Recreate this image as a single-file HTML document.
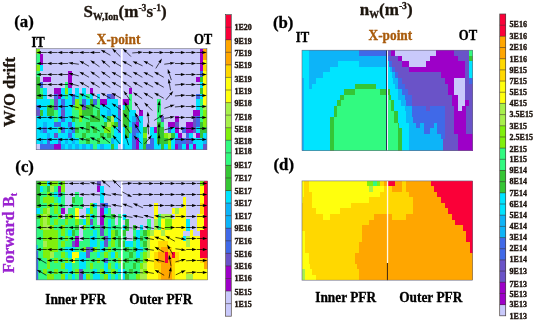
<!DOCTYPE html>
<html><head><meta charset="utf-8"><title>figure</title>
<style>
html,body{margin:0;padding:0;background:#fff;}
body{width:533px;height:320px;overflow:hidden;}
svg{display:block;}
text{font-family:"Liberation Serif",serif;font-weight:bold;stroke-width:0.3px;paint-order:stroke;}
.cb{font-size:8.9px;fill:#1c120c;stroke:#1c120c;stroke-width:0.4px;}
</style></head><body>
<svg width="533" height="320" viewBox="0 0 533 320">
<rect x="0" y="0" width="533" height="320" fill="#ffffff"/>
<defs><filter id="soft" x="0" y="0" width="533" height="320" filterUnits="userSpaceOnUse"><feGaussianBlur stdDeviation="0.45"/></filter></defs>
<g filter="url(#soft)">
<rect x="0" y="0" width="533" height="320" fill="#ffffff"/>
<g shape-rendering="crispEdges">
<rect x="36.20" y="48.60" width="170.70" height="101.10" fill="#c9c9fb"/>
<rect x="36.20" y="48.60" width="3.71" height="5.77" fill="#80f008"/>
<rect x="199.79" y="48.60" width="3.71" height="5.77" fill="#9d00c8"/>
<rect x="203.34" y="48.60" width="3.71" height="5.77" fill="#ffa600"/>
<rect x="36.20" y="54.22" width="3.71" height="5.77" fill="#30fa80"/>
<rect x="39.76" y="54.22" width="3.71" height="5.77" fill="#9d00c8"/>
<rect x="199.79" y="54.22" width="3.71" height="5.77" fill="#9d00c8"/>
<rect x="203.34" y="54.22" width="3.71" height="5.77" fill="#ffa600"/>
<rect x="36.20" y="59.83" width="3.71" height="5.77" fill="#30fa80"/>
<rect x="39.76" y="59.83" width="3.71" height="5.77" fill="#9d00c8"/>
<rect x="199.79" y="59.83" width="3.71" height="5.77" fill="#9d00c8"/>
<rect x="203.34" y="59.83" width="3.71" height="5.77" fill="#ffff10"/>
<rect x="36.20" y="65.45" width="3.71" height="5.77" fill="#80f008"/>
<rect x="39.76" y="65.45" width="3.71" height="5.77" fill="#00e4ff"/>
<rect x="199.79" y="65.45" width="3.71" height="5.77" fill="#9d00c8"/>
<rect x="203.34" y="65.45" width="3.71" height="5.77" fill="#ffd800"/>
<rect x="36.20" y="71.07" width="3.71" height="5.77" fill="#30fa80"/>
<rect x="68.21" y="71.07" width="3.71" height="5.77" fill="#9d00c8"/>
<rect x="199.79" y="71.07" width="3.71" height="5.77" fill="#4169e8"/>
<rect x="203.34" y="71.07" width="3.71" height="5.77" fill="#ffff10"/>
<rect x="36.20" y="76.68" width="3.71" height="5.77" fill="#34c634"/>
<rect x="43.31" y="76.68" width="7.26" height="5.77" fill="#9d00c8"/>
<rect x="68.21" y="76.68" width="3.71" height="5.77" fill="#9d00c8"/>
<rect x="196.23" y="76.68" width="3.71" height="5.77" fill="#9d00c8"/>
<rect x="199.79" y="76.68" width="3.71" height="5.77" fill="#34c634"/>
<rect x="203.34" y="76.68" width="3.71" height="5.77" fill="#ffff10"/>
<rect x="36.20" y="82.30" width="3.71" height="5.77" fill="#34c634"/>
<rect x="39.76" y="82.30" width="3.71" height="5.77" fill="#4169e8"/>
<rect x="64.65" y="82.30" width="3.71" height="5.77" fill="#30fa80"/>
<rect x="68.21" y="82.30" width="3.71" height="5.77" fill="#9d00c8"/>
<rect x="199.79" y="82.30" width="3.71" height="5.77" fill="#00e4ff"/>
<rect x="203.34" y="82.30" width="3.71" height="5.77" fill="#ffff10"/>
<rect x="36.20" y="87.92" width="3.71" height="5.77" fill="#34c634"/>
<rect x="39.76" y="87.92" width="3.71" height="5.77" fill="#30fa80"/>
<rect x="43.31" y="87.92" width="3.71" height="5.77" fill="#00e4ff"/>
<rect x="53.98" y="87.92" width="7.26" height="5.77" fill="#9d00c8"/>
<rect x="61.09" y="87.92" width="3.71" height="5.77" fill="#00e4ff"/>
<rect x="64.65" y="87.92" width="3.71" height="5.77" fill="#80f008"/>
<rect x="68.21" y="87.92" width="3.71" height="5.77" fill="#00e4ff"/>
<rect x="75.32" y="87.92" width="3.71" height="5.77" fill="#00e4ff"/>
<rect x="82.43" y="87.92" width="3.71" height="5.77" fill="#00e4ff"/>
<rect x="89.54" y="87.92" width="3.71" height="5.77" fill="#9d00c8"/>
<rect x="128.66" y="87.92" width="3.71" height="5.77" fill="#9d00c8"/>
<rect x="199.79" y="87.92" width="3.71" height="5.77" fill="#34c634"/>
<rect x="203.34" y="87.92" width="3.71" height="5.77" fill="#ffff10"/>
<rect x="36.20" y="93.53" width="7.26" height="5.77" fill="#34c634"/>
<rect x="43.31" y="93.53" width="3.71" height="5.77" fill="#00e4ff"/>
<rect x="53.98" y="93.53" width="3.71" height="5.77" fill="#4169e8"/>
<rect x="57.54" y="93.53" width="3.71" height="5.77" fill="#9d00c8"/>
<rect x="61.09" y="93.53" width="3.71" height="5.77" fill="#00e4ff"/>
<rect x="64.65" y="93.53" width="3.71" height="5.77" fill="#30fa80"/>
<rect x="68.21" y="93.53" width="3.71" height="5.77" fill="#00e4ff"/>
<rect x="71.76" y="93.53" width="3.71" height="5.77" fill="#4169e8"/>
<rect x="75.32" y="93.53" width="3.71" height="5.77" fill="#00e4ff"/>
<rect x="78.88" y="93.53" width="3.71" height="5.77" fill="#30fa80"/>
<rect x="82.43" y="93.53" width="3.71" height="5.77" fill="#00e4ff"/>
<rect x="85.99" y="93.53" width="3.71" height="5.77" fill="#30fa80"/>
<rect x="89.54" y="93.53" width="3.71" height="5.77" fill="#00e4ff"/>
<rect x="96.66" y="93.53" width="3.71" height="5.77" fill="#00e4ff"/>
<rect x="107.33" y="93.53" width="3.71" height="5.77" fill="#4169e8"/>
<rect x="110.88" y="93.53" width="3.71" height="5.77" fill="#6a52c8"/>
<rect x="128.66" y="93.53" width="3.71" height="5.77" fill="#30fa80"/>
<rect x="196.23" y="93.53" width="3.71" height="5.77" fill="#4169e8"/>
<rect x="199.79" y="93.53" width="3.71" height="5.77" fill="#00e4ff"/>
<rect x="203.34" y="93.53" width="3.71" height="5.77" fill="#ffff10"/>
<rect x="36.20" y="99.15" width="14.38" height="5.77" fill="#00e4ff"/>
<rect x="50.43" y="99.15" width="3.71" height="5.77" fill="#30fa80"/>
<rect x="53.98" y="99.15" width="3.71" height="5.77" fill="#6a52c8"/>
<rect x="57.54" y="99.15" width="3.71" height="5.77" fill="#00e4ff"/>
<rect x="61.09" y="99.15" width="3.71" height="5.77" fill="#4169e8"/>
<rect x="64.65" y="99.15" width="7.26" height="5.77" fill="#00e4ff"/>
<rect x="71.76" y="99.15" width="3.71" height="5.77" fill="#4169e8"/>
<rect x="75.32" y="99.15" width="3.71" height="5.77" fill="#80f008"/>
<rect x="78.88" y="99.15" width="3.71" height="5.77" fill="#30fa80"/>
<rect x="82.43" y="99.15" width="3.71" height="5.77" fill="#4169e8"/>
<rect x="85.99" y="99.15" width="3.71" height="5.77" fill="#00e4ff"/>
<rect x="89.54" y="99.15" width="3.71" height="5.77" fill="#34c634"/>
<rect x="93.10" y="99.15" width="3.71" height="5.77" fill="#4169e8"/>
<rect x="96.66" y="99.15" width="3.71" height="5.77" fill="#30fa80"/>
<rect x="100.21" y="99.15" width="7.26" height="5.77" fill="#9d00c8"/>
<rect x="107.33" y="99.15" width="10.82" height="5.77" fill="#00e4ff"/>
<rect x="121.55" y="99.15" width="7.26" height="5.77" fill="#9d00c8"/>
<rect x="128.66" y="99.15" width="3.71" height="5.77" fill="#30fa80"/>
<rect x="157.11" y="99.15" width="3.71" height="5.77" fill="#30fa80"/>
<rect x="196.23" y="99.15" width="3.71" height="5.77" fill="#00e4ff"/>
<rect x="199.79" y="99.15" width="3.71" height="5.77" fill="#30fa80"/>
<rect x="203.34" y="99.15" width="3.71" height="5.77" fill="#ffff10"/>
<rect x="36.20" y="104.77" width="3.71" height="5.77" fill="#4169e8"/>
<rect x="39.76" y="104.77" width="7.26" height="5.77" fill="#00e4ff"/>
<rect x="46.87" y="104.77" width="7.26" height="5.77" fill="#34c634"/>
<rect x="53.98" y="104.77" width="3.71" height="5.77" fill="#6a52c8"/>
<rect x="57.54" y="104.77" width="3.71" height="5.77" fill="#00e4ff"/>
<rect x="61.09" y="104.77" width="3.71" height="5.77" fill="#4169e8"/>
<rect x="64.65" y="104.77" width="7.26" height="5.77" fill="#00e4ff"/>
<rect x="71.76" y="104.77" width="3.71" height="5.77" fill="#30fa80"/>
<rect x="75.32" y="104.77" width="7.26" height="5.77" fill="#80f008"/>
<rect x="82.43" y="104.77" width="3.71" height="5.77" fill="#6a52c8"/>
<rect x="85.99" y="104.77" width="7.26" height="5.77" fill="#34c634"/>
<rect x="93.10" y="104.77" width="7.26" height="5.77" fill="#30fa80"/>
<rect x="100.21" y="104.77" width="17.93" height="5.77" fill="#00e4ff"/>
<rect x="117.99" y="104.77" width="3.71" height="5.77" fill="#6a52c8"/>
<rect x="121.55" y="104.77" width="3.71" height="5.77" fill="#00e4ff"/>
<rect x="125.11" y="104.77" width="3.71" height="5.77" fill="#34c634"/>
<rect x="128.66" y="104.77" width="3.71" height="5.77" fill="#30fa80"/>
<rect x="157.11" y="104.77" width="3.71" height="5.77" fill="#30fa80"/>
<rect x="196.23" y="104.77" width="3.71" height="5.77" fill="#00e4ff"/>
<rect x="199.79" y="104.77" width="3.71" height="5.77" fill="#30fa80"/>
<rect x="203.34" y="104.77" width="3.71" height="5.77" fill="#a8f04c"/>
<rect x="36.20" y="110.38" width="3.71" height="5.77" fill="#6a52c8"/>
<rect x="39.76" y="110.38" width="3.71" height="5.77" fill="#34c634"/>
<rect x="43.31" y="110.38" width="3.71" height="5.77" fill="#00e4ff"/>
<rect x="46.87" y="110.38" width="7.26" height="5.77" fill="#34c634"/>
<rect x="53.98" y="110.38" width="3.71" height="5.77" fill="#30fa80"/>
<rect x="57.54" y="110.38" width="3.71" height="5.77" fill="#00e4ff"/>
<rect x="61.09" y="110.38" width="3.71" height="5.77" fill="#6a52c8"/>
<rect x="64.65" y="110.38" width="7.26" height="5.77" fill="#00e4ff"/>
<rect x="71.76" y="110.38" width="7.26" height="5.77" fill="#30fa80"/>
<rect x="78.88" y="110.38" width="3.71" height="5.77" fill="#80f008"/>
<rect x="82.43" y="110.38" width="10.82" height="5.77" fill="#34c634"/>
<rect x="93.10" y="110.38" width="3.71" height="5.77" fill="#30fa80"/>
<rect x="96.66" y="110.38" width="3.71" height="5.77" fill="#34c634"/>
<rect x="100.21" y="110.38" width="7.26" height="5.77" fill="#00e4ff"/>
<rect x="107.33" y="110.38" width="3.71" height="5.77" fill="#10b4f8"/>
<rect x="110.88" y="110.38" width="7.26" height="5.77" fill="#00e4ff"/>
<rect x="117.99" y="110.38" width="3.71" height="5.77" fill="#6a52c8"/>
<rect x="121.55" y="110.38" width="7.26" height="5.77" fill="#34c634"/>
<rect x="128.66" y="110.38" width="7.26" height="5.77" fill="#00e4ff"/>
<rect x="139.33" y="110.38" width="3.71" height="5.77" fill="#9d00c8"/>
<rect x="157.11" y="110.38" width="3.71" height="5.77" fill="#30fa80"/>
<rect x="192.68" y="110.38" width="7.26" height="5.77" fill="#9d00c8"/>
<rect x="199.79" y="110.38" width="3.71" height="5.77" fill="#30fa80"/>
<rect x="203.34" y="110.38" width="3.71" height="5.77" fill="#80f008"/>
<rect x="36.20" y="116.00" width="17.93" height="5.77" fill="#00e4ff"/>
<rect x="53.98" y="116.00" width="3.71" height="5.77" fill="#30fa80"/>
<rect x="57.54" y="116.00" width="3.71" height="5.77" fill="#00e4ff"/>
<rect x="61.09" y="116.00" width="3.71" height="5.77" fill="#4169e8"/>
<rect x="64.65" y="116.00" width="7.26" height="5.77" fill="#00e4ff"/>
<rect x="71.76" y="116.00" width="3.71" height="5.77" fill="#34c634"/>
<rect x="75.32" y="116.00" width="3.71" height="5.77" fill="#30fa80"/>
<rect x="78.88" y="116.00" width="3.71" height="5.77" fill="#80f008"/>
<rect x="82.43" y="116.00" width="7.26" height="5.77" fill="#30fa80"/>
<rect x="89.54" y="116.00" width="10.82" height="5.77" fill="#34c634"/>
<rect x="100.21" y="116.00" width="3.71" height="5.77" fill="#30fa80"/>
<rect x="103.77" y="116.00" width="3.71" height="5.77" fill="#00e4ff"/>
<rect x="107.33" y="116.00" width="3.71" height="5.77" fill="#34c634"/>
<rect x="110.88" y="116.00" width="3.71" height="5.77" fill="#a8f04c"/>
<rect x="114.44" y="116.00" width="3.71" height="5.77" fill="#00e4ff"/>
<rect x="117.99" y="116.00" width="3.71" height="5.77" fill="#4169e8"/>
<rect x="121.55" y="116.00" width="7.26" height="5.77" fill="#34c634"/>
<rect x="128.66" y="116.00" width="3.71" height="5.77" fill="#00e4ff"/>
<rect x="132.22" y="116.00" width="3.71" height="5.77" fill="#10b4f8"/>
<rect x="135.78" y="116.00" width="3.71" height="5.77" fill="#6a52c8"/>
<rect x="139.33" y="116.00" width="3.71" height="5.77" fill="#00e4ff"/>
<rect x="157.11" y="116.00" width="3.71" height="5.77" fill="#30fa80"/>
<rect x="160.67" y="116.00" width="3.71" height="5.77" fill="#6a52c8"/>
<rect x="174.89" y="116.00" width="3.71" height="5.77" fill="#9d00c8"/>
<rect x="192.68" y="116.00" width="3.71" height="5.77" fill="#6a52c8"/>
<rect x="196.23" y="116.00" width="3.71" height="5.77" fill="#4169e8"/>
<rect x="199.79" y="116.00" width="3.71" height="5.77" fill="#30fa80"/>
<rect x="203.34" y="116.00" width="3.71" height="5.77" fill="#80f008"/>
<rect x="36.20" y="121.62" width="7.26" height="5.77" fill="#00e4ff"/>
<rect x="43.31" y="121.62" width="3.71" height="5.77" fill="#10b4f8"/>
<rect x="46.87" y="121.62" width="7.26" height="5.77" fill="#00e4ff"/>
<rect x="53.98" y="121.62" width="7.26" height="5.77" fill="#4169e8"/>
<rect x="61.09" y="121.62" width="7.26" height="5.77" fill="#00e4ff"/>
<rect x="68.21" y="121.62" width="3.71" height="5.77" fill="#4169e8"/>
<rect x="71.76" y="121.62" width="3.71" height="5.77" fill="#00e4ff"/>
<rect x="75.32" y="121.62" width="10.82" height="5.77" fill="#30fa80"/>
<rect x="85.99" y="121.62" width="3.71" height="5.77" fill="#34c634"/>
<rect x="89.54" y="121.62" width="14.38" height="5.77" fill="#30fa80"/>
<rect x="103.77" y="121.62" width="3.71" height="5.77" fill="#34c634"/>
<rect x="107.33" y="121.62" width="3.71" height="5.77" fill="#a8f04c"/>
<rect x="110.88" y="121.62" width="3.71" height="5.77" fill="#80f008"/>
<rect x="114.44" y="121.62" width="3.71" height="5.77" fill="#34c634"/>
<rect x="117.99" y="121.62" width="3.71" height="5.77" fill="#4169e8"/>
<rect x="121.55" y="121.62" width="7.26" height="5.77" fill="#34c634"/>
<rect x="128.66" y="121.62" width="3.71" height="5.77" fill="#00e4ff"/>
<rect x="132.22" y="121.62" width="3.71" height="5.77" fill="#4169e8"/>
<rect x="135.78" y="121.62" width="3.71" height="5.77" fill="#9d00c8"/>
<rect x="139.33" y="121.62" width="3.71" height="5.77" fill="#00e4ff"/>
<rect x="157.11" y="121.62" width="3.71" height="5.77" fill="#34c634"/>
<rect x="160.67" y="121.62" width="3.71" height="5.77" fill="#30fa80"/>
<rect x="167.78" y="121.62" width="7.26" height="5.77" fill="#9d00c8"/>
<rect x="174.89" y="121.62" width="3.71" height="5.77" fill="#6a52c8"/>
<rect x="185.56" y="121.62" width="7.26" height="5.77" fill="#9d00c8"/>
<rect x="192.68" y="121.62" width="3.71" height="5.77" fill="#6a52c8"/>
<rect x="196.23" y="121.62" width="3.71" height="5.77" fill="#4169e8"/>
<rect x="199.79" y="121.62" width="3.71" height="5.77" fill="#34c634"/>
<rect x="203.34" y="121.62" width="3.71" height="5.77" fill="#80f008"/>
<rect x="36.20" y="127.23" width="3.71" height="5.77" fill="#00e4ff"/>
<rect x="39.76" y="127.23" width="3.71" height="5.77" fill="#10b4f8"/>
<rect x="43.31" y="127.23" width="3.71" height="5.77" fill="#4169e8"/>
<rect x="46.87" y="127.23" width="10.82" height="5.77" fill="#00e4ff"/>
<rect x="57.54" y="127.23" width="3.71" height="5.77" fill="#30fa80"/>
<rect x="61.09" y="127.23" width="3.71" height="5.77" fill="#4169e8"/>
<rect x="64.65" y="127.23" width="3.71" height="5.77" fill="#00e4ff"/>
<rect x="68.21" y="127.23" width="3.71" height="5.77" fill="#10b4f8"/>
<rect x="71.76" y="127.23" width="3.71" height="5.77" fill="#4169e8"/>
<rect x="75.32" y="127.23" width="3.71" height="5.77" fill="#34c634"/>
<rect x="78.88" y="127.23" width="7.26" height="5.77" fill="#30fa80"/>
<rect x="85.99" y="127.23" width="3.71" height="5.77" fill="#34c634"/>
<rect x="89.54" y="127.23" width="3.71" height="5.77" fill="#30fa80"/>
<rect x="93.10" y="127.23" width="3.71" height="5.77" fill="#34c634"/>
<rect x="96.66" y="127.23" width="7.26" height="5.77" fill="#30fa80"/>
<rect x="103.77" y="127.23" width="7.26" height="5.77" fill="#80f008"/>
<rect x="110.88" y="127.23" width="3.71" height="5.77" fill="#30fa80"/>
<rect x="114.44" y="127.23" width="3.71" height="5.77" fill="#00e4ff"/>
<rect x="117.99" y="127.23" width="3.71" height="5.77" fill="#4169e8"/>
<rect x="121.55" y="127.23" width="3.71" height="5.77" fill="#00e4ff"/>
<rect x="125.11" y="127.23" width="3.71" height="5.77" fill="#34c634"/>
<rect x="128.66" y="127.23" width="3.71" height="5.77" fill="#30fa80"/>
<rect x="132.22" y="127.23" width="7.26" height="5.77" fill="#4169e8"/>
<rect x="139.33" y="127.23" width="3.71" height="5.77" fill="#00e4ff"/>
<rect x="142.89" y="127.23" width="3.71" height="5.77" fill="#34c634"/>
<rect x="150.00" y="127.23" width="3.71" height="5.77" fill="#00e4ff"/>
<rect x="153.56" y="127.23" width="3.71" height="5.77" fill="#9d00c8"/>
<rect x="157.11" y="127.23" width="7.26" height="5.77" fill="#34c634"/>
<rect x="167.78" y="127.23" width="3.71" height="5.77" fill="#4169e8"/>
<rect x="171.34" y="127.23" width="3.71" height="5.77" fill="#00e4ff"/>
<rect x="174.89" y="127.23" width="3.71" height="5.77" fill="#9d00c8"/>
<rect x="182.01" y="127.23" width="3.71" height="5.77" fill="#4169e8"/>
<rect x="185.56" y="127.23" width="7.26" height="5.77" fill="#9d00c8"/>
<rect x="192.68" y="127.23" width="3.71" height="5.77" fill="#6a52c8"/>
<rect x="196.23" y="127.23" width="3.71" height="5.77" fill="#00e4ff"/>
<rect x="199.79" y="127.23" width="7.26" height="5.77" fill="#34c634"/>
<rect x="36.20" y="132.85" width="10.82" height="5.77" fill="#00e4ff"/>
<rect x="46.87" y="132.85" width="3.71" height="5.77" fill="#10b4f8"/>
<rect x="50.43" y="132.85" width="3.71" height="5.77" fill="#00e4ff"/>
<rect x="53.98" y="132.85" width="3.71" height="5.77" fill="#6a52c8"/>
<rect x="57.54" y="132.85" width="10.82" height="5.77" fill="#00e4ff"/>
<rect x="68.21" y="132.85" width="3.71" height="5.77" fill="#4169e8"/>
<rect x="71.76" y="132.85" width="3.71" height="5.77" fill="#00e4ff"/>
<rect x="75.32" y="132.85" width="7.26" height="5.77" fill="#30fa80"/>
<rect x="82.43" y="132.85" width="3.71" height="5.77" fill="#34c634"/>
<rect x="85.99" y="132.85" width="14.38" height="5.77" fill="#30fa80"/>
<rect x="100.21" y="132.85" width="3.71" height="5.77" fill="#34c634"/>
<rect x="103.77" y="132.85" width="3.71" height="5.77" fill="#30fa80"/>
<rect x="107.33" y="132.85" width="3.71" height="5.77" fill="#34c634"/>
<rect x="110.88" y="132.85" width="3.71" height="5.77" fill="#30fa80"/>
<rect x="114.44" y="132.85" width="10.82" height="5.77" fill="#00e4ff"/>
<rect x="125.11" y="132.85" width="3.71" height="5.77" fill="#34c634"/>
<rect x="128.66" y="132.85" width="3.71" height="5.77" fill="#00e4ff"/>
<rect x="132.22" y="132.85" width="3.71" height="5.77" fill="#4169e8"/>
<rect x="135.78" y="132.85" width="3.71" height="5.77" fill="#10b4f8"/>
<rect x="139.33" y="132.85" width="3.71" height="5.77" fill="#00e4ff"/>
<rect x="142.89" y="132.85" width="3.71" height="5.77" fill="#80f008"/>
<rect x="150.00" y="132.85" width="7.26" height="5.77" fill="#00e4ff"/>
<rect x="157.11" y="132.85" width="7.26" height="5.77" fill="#34c634"/>
<rect x="164.23" y="132.85" width="3.71" height="5.77" fill="#80f008"/>
<rect x="167.78" y="132.85" width="3.71" height="5.77" fill="#a8f04c"/>
<rect x="171.34" y="132.85" width="3.71" height="5.77" fill="#34c634"/>
<rect x="174.89" y="132.85" width="3.71" height="5.77" fill="#00e4ff"/>
<rect x="178.45" y="132.85" width="3.71" height="5.77" fill="#9d00c8"/>
<rect x="185.56" y="132.85" width="3.71" height="5.77" fill="#4169e8"/>
<rect x="189.12" y="132.85" width="3.71" height="5.77" fill="#00e4ff"/>
<rect x="196.23" y="132.85" width="3.71" height="5.77" fill="#9d00c8"/>
<rect x="199.79" y="132.85" width="3.71" height="5.77" fill="#34c634"/>
<rect x="203.34" y="132.85" width="3.71" height="5.77" fill="#00e4ff"/>
<rect x="36.20" y="138.47" width="3.71" height="5.77" fill="#00e4ff"/>
<rect x="39.76" y="138.47" width="3.71" height="5.77" fill="#10b4f8"/>
<rect x="43.31" y="138.47" width="3.71" height="5.77" fill="#00e4ff"/>
<rect x="46.87" y="138.47" width="3.71" height="5.77" fill="#4169e8"/>
<rect x="50.43" y="138.47" width="7.26" height="5.77" fill="#00e4ff"/>
<rect x="57.54" y="138.47" width="3.71" height="5.77" fill="#4169e8"/>
<rect x="61.09" y="138.47" width="3.71" height="5.77" fill="#00e4ff"/>
<rect x="64.65" y="138.47" width="3.71" height="5.77" fill="#10b4f8"/>
<rect x="68.21" y="138.47" width="3.71" height="5.77" fill="#00e4ff"/>
<rect x="71.76" y="138.47" width="3.71" height="5.77" fill="#10b4f8"/>
<rect x="75.32" y="138.47" width="3.71" height="5.77" fill="#00e4ff"/>
<rect x="78.88" y="138.47" width="7.26" height="5.77" fill="#30fa80"/>
<rect x="85.99" y="138.47" width="3.71" height="5.77" fill="#34c634"/>
<rect x="89.54" y="138.47" width="7.26" height="5.77" fill="#30fa80"/>
<rect x="96.66" y="138.47" width="3.71" height="5.77" fill="#34c634"/>
<rect x="100.21" y="138.47" width="10.82" height="5.77" fill="#30fa80"/>
<rect x="110.88" y="138.47" width="3.71" height="5.77" fill="#10b4f8"/>
<rect x="114.44" y="138.47" width="17.93" height="5.77" fill="#00e4ff"/>
<rect x="132.22" y="138.47" width="3.71" height="5.77" fill="#4169e8"/>
<rect x="135.78" y="138.47" width="3.71" height="5.77" fill="#9d00c8"/>
<rect x="139.33" y="138.47" width="3.71" height="5.77" fill="#00e4ff"/>
<rect x="142.89" y="138.47" width="3.71" height="5.77" fill="#34c634"/>
<rect x="150.00" y="138.47" width="3.71" height="5.77" fill="#4169e8"/>
<rect x="153.56" y="138.47" width="3.71" height="5.77" fill="#00e4ff"/>
<rect x="157.11" y="138.47" width="10.82" height="5.77" fill="#34c634"/>
<rect x="167.78" y="138.47" width="3.71" height="5.77" fill="#80f008"/>
<rect x="171.34" y="138.47" width="3.71" height="5.77" fill="#00e4ff"/>
<rect x="174.89" y="138.47" width="10.82" height="5.77" fill="#4169e8"/>
<rect x="185.56" y="138.47" width="3.71" height="5.77" fill="#6a52c8"/>
<rect x="189.12" y="138.47" width="3.71" height="5.77" fill="#4169e8"/>
<rect x="192.68" y="138.47" width="10.82" height="5.77" fill="#00e4ff"/>
<rect x="203.34" y="138.47" width="3.71" height="5.77" fill="#10b4f8"/>
<rect x="39.76" y="144.08" width="14.38" height="5.77" fill="#4169e8"/>
<rect x="53.98" y="144.08" width="7.26" height="5.77" fill="#9d00c8"/>
<rect x="61.09" y="144.08" width="3.71" height="5.77" fill="#10b4f8"/>
<rect x="64.65" y="144.08" width="3.71" height="5.77" fill="#00e4ff"/>
<rect x="68.21" y="144.08" width="3.71" height="5.77" fill="#10b4f8"/>
<rect x="71.76" y="144.08" width="3.71" height="5.77" fill="#00e4ff"/>
<rect x="75.32" y="144.08" width="3.71" height="5.77" fill="#10b4f8"/>
<rect x="78.88" y="144.08" width="3.71" height="5.77" fill="#00e4ff"/>
<rect x="82.43" y="144.08" width="3.71" height="5.77" fill="#10b4f8"/>
<rect x="85.99" y="144.08" width="3.71" height="5.77" fill="#00e4ff"/>
<rect x="89.54" y="144.08" width="3.71" height="5.77" fill="#10b4f8"/>
<rect x="93.10" y="144.08" width="3.71" height="5.77" fill="#30fa80"/>
<rect x="96.66" y="144.08" width="3.71" height="5.77" fill="#00e4ff"/>
<rect x="100.21" y="144.08" width="3.71" height="5.77" fill="#10b4f8"/>
<rect x="103.77" y="144.08" width="7.26" height="5.77" fill="#00e4ff"/>
<rect x="110.88" y="144.08" width="3.71" height="5.77" fill="#34c634"/>
<rect x="114.44" y="144.08" width="3.71" height="5.77" fill="#00e4ff"/>
<rect x="121.55" y="144.08" width="3.71" height="5.77" fill="#10b4f8"/>
<rect x="125.11" y="144.08" width="7.26" height="5.77" fill="#00e4ff"/>
<rect x="132.22" y="144.08" width="3.71" height="5.77" fill="#4169e8"/>
<rect x="135.78" y="144.08" width="3.71" height="5.77" fill="#9d00c8"/>
<rect x="139.33" y="144.08" width="3.71" height="5.77" fill="#00e4ff"/>
<rect x="142.89" y="144.08" width="3.71" height="5.77" fill="#34c634"/>
<rect x="146.44" y="144.08" width="7.26" height="5.77" fill="#4169e8"/>
<rect x="153.56" y="144.08" width="7.26" height="5.77" fill="#00e4ff"/>
<rect x="160.67" y="144.08" width="3.71" height="5.77" fill="#34c634"/>
<rect x="164.23" y="144.08" width="3.71" height="5.77" fill="#00e4ff"/>
<rect x="167.78" y="144.08" width="3.71" height="5.77" fill="#80f008"/>
<rect x="171.34" y="144.08" width="3.71" height="5.77" fill="#00e4ff"/>
<rect x="174.89" y="144.08" width="3.71" height="5.77" fill="#9d00c8"/>
<rect x="178.45" y="144.08" width="3.71" height="5.77" fill="#4169e8"/>
<rect x="182.01" y="144.08" width="3.71" height="5.77" fill="#00e4ff"/>
<rect x="185.56" y="144.08" width="3.71" height="5.77" fill="#9d00c8"/>
<rect x="189.12" y="144.08" width="3.71" height="5.77" fill="#00e4ff"/>
<rect x="192.68" y="144.08" width="3.71" height="5.77" fill="#9d00c8"/>
<rect x="196.23" y="144.08" width="7.26" height="5.77" fill="#00e4ff"/>
<rect x="203.34" y="144.08" width="3.71" height="5.77" fill="#6a52c8"/>
<rect x="36.20" y="181.00" width="171.30" height="98.90" fill="#c9c9fb"/>
<rect x="36.20" y="181.00" width="3.72" height="5.64" fill="#34c634"/>
<rect x="39.77" y="181.00" width="7.29" height="5.64" fill="#80f008"/>
<rect x="46.91" y="181.00" width="3.72" height="5.64" fill="#00e4ff"/>
<rect x="50.48" y="181.00" width="7.29" height="5.64" fill="#80f008"/>
<rect x="57.61" y="181.00" width="3.72" height="5.64" fill="#30fa80"/>
<rect x="61.18" y="181.00" width="3.72" height="5.64" fill="#80f008"/>
<rect x="96.87" y="181.00" width="3.72" height="5.64" fill="#6a52c8"/>
<rect x="200.36" y="181.00" width="3.72" height="5.64" fill="#80f008"/>
<rect x="203.93" y="181.00" width="3.72" height="5.64" fill="#fa0038"/>
<rect x="36.20" y="186.49" width="3.72" height="5.64" fill="#34c634"/>
<rect x="39.77" y="186.49" width="3.72" height="5.64" fill="#00e4ff"/>
<rect x="43.34" y="186.49" width="3.72" height="5.64" fill="#30fa80"/>
<rect x="46.91" y="186.49" width="3.72" height="5.64" fill="#34c634"/>
<rect x="50.48" y="186.49" width="3.72" height="5.64" fill="#a8f04c"/>
<rect x="54.04" y="186.49" width="3.72" height="5.64" fill="#30fa80"/>
<rect x="57.61" y="186.49" width="3.72" height="5.64" fill="#9d00c8"/>
<rect x="61.18" y="186.49" width="3.72" height="5.64" fill="#80f008"/>
<rect x="96.87" y="186.49" width="3.72" height="5.64" fill="#9d00c8"/>
<rect x="100.44" y="186.49" width="3.72" height="5.64" fill="#00e4ff"/>
<rect x="200.36" y="186.49" width="3.72" height="5.64" fill="#ffff10"/>
<rect x="203.93" y="186.49" width="3.72" height="5.64" fill="#fa0038"/>
<rect x="36.20" y="191.99" width="3.72" height="5.64" fill="#34c634"/>
<rect x="39.77" y="191.99" width="7.29" height="5.64" fill="#30fa80"/>
<rect x="46.91" y="191.99" width="3.72" height="5.64" fill="#80f008"/>
<rect x="50.48" y="191.99" width="3.72" height="5.64" fill="#30fa80"/>
<rect x="54.04" y="191.99" width="3.72" height="5.64" fill="#00e4ff"/>
<rect x="57.61" y="191.99" width="3.72" height="5.64" fill="#6a52c8"/>
<rect x="61.18" y="191.99" width="3.72" height="5.64" fill="#30fa80"/>
<rect x="75.46" y="191.99" width="3.72" height="5.64" fill="#30fa80"/>
<rect x="100.44" y="191.99" width="3.72" height="5.64" fill="#00e4ff"/>
<rect x="200.36" y="191.99" width="3.72" height="5.64" fill="#ffff10"/>
<rect x="203.93" y="191.99" width="3.72" height="5.64" fill="#fa0038"/>
<rect x="36.20" y="197.48" width="3.72" height="5.64" fill="#34c634"/>
<rect x="39.77" y="197.48" width="3.72" height="5.64" fill="#30fa80"/>
<rect x="43.34" y="197.48" width="10.86" height="5.64" fill="#80f008"/>
<rect x="54.04" y="197.48" width="3.72" height="5.64" fill="#30fa80"/>
<rect x="57.61" y="197.48" width="3.72" height="5.64" fill="#00e4ff"/>
<rect x="61.18" y="197.48" width="3.72" height="5.64" fill="#30fa80"/>
<rect x="71.89" y="197.48" width="3.72" height="5.64" fill="#34c634"/>
<rect x="75.46" y="197.48" width="7.29" height="5.64" fill="#30fa80"/>
<rect x="100.44" y="197.48" width="3.72" height="5.64" fill="#00e4ff"/>
<rect x="182.52" y="197.48" width="3.72" height="5.64" fill="#ffff10"/>
<rect x="200.36" y="197.48" width="3.72" height="5.64" fill="#ffff10"/>
<rect x="203.93" y="197.48" width="3.72" height="5.64" fill="#fa0038"/>
<rect x="36.20" y="202.98" width="3.72" height="5.64" fill="#34c634"/>
<rect x="39.77" y="202.98" width="7.29" height="5.64" fill="#30fa80"/>
<rect x="46.91" y="202.98" width="3.72" height="5.64" fill="#80f008"/>
<rect x="50.48" y="202.98" width="3.72" height="5.64" fill="#30fa80"/>
<rect x="54.04" y="202.98" width="3.72" height="5.64" fill="#80f008"/>
<rect x="57.61" y="202.98" width="7.29" height="5.64" fill="#30fa80"/>
<rect x="71.89" y="202.98" width="10.86" height="5.64" fill="#30fa80"/>
<rect x="89.73" y="202.98" width="3.72" height="5.64" fill="#80f008"/>
<rect x="93.30" y="202.98" width="3.72" height="5.64" fill="#00e4ff"/>
<rect x="100.44" y="202.98" width="3.72" height="5.64" fill="#6a52c8"/>
<rect x="104.01" y="202.98" width="3.72" height="5.64" fill="#4169e8"/>
<rect x="153.97" y="202.98" width="3.72" height="5.64" fill="#ffff10"/>
<rect x="182.52" y="202.98" width="3.72" height="5.64" fill="#ffff10"/>
<rect x="200.36" y="202.98" width="3.72" height="5.64" fill="#ffd800"/>
<rect x="203.93" y="202.98" width="3.72" height="5.64" fill="#fa0038"/>
<rect x="36.20" y="208.47" width="3.72" height="5.64" fill="#00e4ff"/>
<rect x="39.77" y="208.47" width="3.72" height="5.64" fill="#30fa80"/>
<rect x="43.34" y="208.47" width="3.72" height="5.64" fill="#80f008"/>
<rect x="46.91" y="208.47" width="3.72" height="5.64" fill="#a8f04c"/>
<rect x="50.48" y="208.47" width="3.72" height="5.64" fill="#30fa80"/>
<rect x="54.04" y="208.47" width="3.72" height="5.64" fill="#80f008"/>
<rect x="57.61" y="208.47" width="3.72" height="5.64" fill="#30fa80"/>
<rect x="61.18" y="208.47" width="3.72" height="5.64" fill="#9d00c8"/>
<rect x="68.32" y="208.47" width="7.29" height="5.64" fill="#30fa80"/>
<rect x="75.46" y="208.47" width="3.72" height="5.64" fill="#ffff10"/>
<rect x="86.16" y="208.47" width="3.72" height="5.64" fill="#00e4ff"/>
<rect x="89.73" y="208.47" width="3.72" height="5.64" fill="#80f008"/>
<rect x="93.30" y="208.47" width="3.72" height="5.64" fill="#30fa80"/>
<rect x="100.44" y="208.47" width="3.72" height="5.64" fill="#9d00c8"/>
<rect x="104.01" y="208.47" width="3.72" height="5.64" fill="#00e4ff"/>
<rect x="107.58" y="208.47" width="3.72" height="5.64" fill="#30fa80"/>
<rect x="153.97" y="208.47" width="3.72" height="5.64" fill="#ffff10"/>
<rect x="171.81" y="208.47" width="3.72" height="5.64" fill="#ffff10"/>
<rect x="175.38" y="208.47" width="3.72" height="5.64" fill="#a8f04c"/>
<rect x="178.95" y="208.47" width="7.29" height="5.64" fill="#ffff10"/>
<rect x="200.36" y="208.47" width="3.72" height="5.64" fill="#ffd800"/>
<rect x="203.93" y="208.47" width="3.72" height="5.64" fill="#fa0038"/>
<rect x="36.20" y="213.97" width="3.72" height="5.64" fill="#34c634"/>
<rect x="39.77" y="213.97" width="3.72" height="5.64" fill="#80f008"/>
<rect x="43.34" y="213.97" width="3.72" height="5.64" fill="#a8f04c"/>
<rect x="46.91" y="213.97" width="3.72" height="5.64" fill="#80f008"/>
<rect x="50.48" y="213.97" width="7.29" height="5.64" fill="#30fa80"/>
<rect x="57.61" y="213.97" width="3.72" height="5.64" fill="#80f008"/>
<rect x="64.75" y="213.97" width="3.72" height="5.64" fill="#34c634"/>
<rect x="68.32" y="213.97" width="3.72" height="5.64" fill="#80f008"/>
<rect x="71.89" y="213.97" width="3.72" height="5.64" fill="#30fa80"/>
<rect x="75.46" y="213.97" width="3.72" height="5.64" fill="#ffff10"/>
<rect x="86.16" y="213.97" width="3.72" height="5.64" fill="#80f008"/>
<rect x="89.73" y="213.97" width="3.72" height="5.64" fill="#00e4ff"/>
<rect x="93.30" y="213.97" width="3.72" height="5.64" fill="#30fa80"/>
<rect x="100.44" y="213.97" width="3.72" height="5.64" fill="#9d00c8"/>
<rect x="104.01" y="213.97" width="7.29" height="5.64" fill="#30fa80"/>
<rect x="111.14" y="213.97" width="3.72" height="5.64" fill="#34c634"/>
<rect x="118.28" y="213.97" width="3.72" height="5.64" fill="#30fa80"/>
<rect x="121.85" y="213.97" width="3.72" height="5.64" fill="#00e4ff"/>
<rect x="153.97" y="213.97" width="3.72" height="5.64" fill="#ffff10"/>
<rect x="157.54" y="213.97" width="3.72" height="5.64" fill="#30fa80"/>
<rect x="161.11" y="213.97" width="10.86" height="5.64" fill="#a8f04c"/>
<rect x="175.38" y="213.97" width="10.86" height="5.64" fill="#ffff10"/>
<rect x="196.79" y="213.97" width="7.29" height="5.64" fill="#ffff10"/>
<rect x="203.93" y="213.97" width="3.72" height="5.64" fill="#fa0038"/>
<rect x="36.20" y="219.46" width="3.72" height="5.64" fill="#30fa80"/>
<rect x="39.77" y="219.46" width="3.72" height="5.64" fill="#80f008"/>
<rect x="43.34" y="219.46" width="3.72" height="5.64" fill="#a8f04c"/>
<rect x="46.91" y="219.46" width="3.72" height="5.64" fill="#80f008"/>
<rect x="50.48" y="219.46" width="3.72" height="5.64" fill="#30fa80"/>
<rect x="54.04" y="219.46" width="3.72" height="5.64" fill="#80f008"/>
<rect x="57.61" y="219.46" width="7.29" height="5.64" fill="#30fa80"/>
<rect x="64.75" y="219.46" width="3.72" height="5.64" fill="#80f008"/>
<rect x="68.32" y="219.46" width="7.29" height="5.64" fill="#30fa80"/>
<rect x="75.46" y="219.46" width="3.72" height="5.64" fill="#80f008"/>
<rect x="79.03" y="219.46" width="3.72" height="5.64" fill="#30fa80"/>
<rect x="82.59" y="219.46" width="3.72" height="5.64" fill="#00e4ff"/>
<rect x="86.16" y="219.46" width="3.72" height="5.64" fill="#80f008"/>
<rect x="89.73" y="219.46" width="3.72" height="5.64" fill="#6a52c8"/>
<rect x="93.30" y="219.46" width="3.72" height="5.64" fill="#30fa80"/>
<rect x="100.44" y="219.46" width="3.72" height="5.64" fill="#9d00c8"/>
<rect x="104.01" y="219.46" width="3.72" height="5.64" fill="#30fa80"/>
<rect x="107.58" y="219.46" width="3.72" height="5.64" fill="#00e4ff"/>
<rect x="111.14" y="219.46" width="3.72" height="5.64" fill="#30fa80"/>
<rect x="118.28" y="219.46" width="3.72" height="5.64" fill="#30fa80"/>
<rect x="125.42" y="219.46" width="3.72" height="5.64" fill="#34c634"/>
<rect x="146.83" y="219.46" width="3.72" height="5.64" fill="#30fa80"/>
<rect x="153.97" y="219.46" width="3.72" height="5.64" fill="#a8f04c"/>
<rect x="157.54" y="219.46" width="3.72" height="5.64" fill="#30fa80"/>
<rect x="161.11" y="219.46" width="3.72" height="5.64" fill="#ffff10"/>
<rect x="164.68" y="219.46" width="7.29" height="5.64" fill="#80f008"/>
<rect x="171.81" y="219.46" width="14.43" height="5.64" fill="#ffff10"/>
<rect x="186.09" y="219.46" width="3.72" height="5.64" fill="#00e4ff"/>
<rect x="196.79" y="219.46" width="7.29" height="5.64" fill="#ffff10"/>
<rect x="203.93" y="219.46" width="3.72" height="5.64" fill="#fa0038"/>
<rect x="36.20" y="224.96" width="3.72" height="5.64" fill="#30fa80"/>
<rect x="39.77" y="224.96" width="3.72" height="5.64" fill="#80f008"/>
<rect x="43.34" y="224.96" width="7.29" height="5.64" fill="#a8f04c"/>
<rect x="50.48" y="224.96" width="3.72" height="5.64" fill="#80f008"/>
<rect x="54.04" y="224.96" width="7.29" height="5.64" fill="#30fa80"/>
<rect x="61.18" y="224.96" width="3.72" height="5.64" fill="#80f008"/>
<rect x="64.75" y="224.96" width="10.86" height="5.64" fill="#30fa80"/>
<rect x="75.46" y="224.96" width="3.72" height="5.64" fill="#34c634"/>
<rect x="82.59" y="224.96" width="3.72" height="5.64" fill="#80f008"/>
<rect x="86.16" y="224.96" width="3.72" height="5.64" fill="#30fa80"/>
<rect x="89.73" y="224.96" width="3.72" height="5.64" fill="#00e4ff"/>
<rect x="93.30" y="224.96" width="7.29" height="5.64" fill="#30fa80"/>
<rect x="100.44" y="224.96" width="3.72" height="5.64" fill="#6a52c8"/>
<rect x="104.01" y="224.96" width="3.72" height="5.64" fill="#30fa80"/>
<rect x="107.58" y="224.96" width="3.72" height="5.64" fill="#00e4ff"/>
<rect x="111.14" y="224.96" width="10.86" height="5.64" fill="#30fa80"/>
<rect x="121.85" y="224.96" width="3.72" height="5.64" fill="#00e4ff"/>
<rect x="125.42" y="224.96" width="3.72" height="5.64" fill="#34c634"/>
<rect x="132.56" y="224.96" width="3.72" height="5.64" fill="#34c634"/>
<rect x="139.69" y="224.96" width="3.72" height="5.64" fill="#00e4ff"/>
<rect x="146.83" y="224.96" width="3.72" height="5.64" fill="#30fa80"/>
<rect x="153.97" y="224.96" width="3.72" height="5.64" fill="#a8f04c"/>
<rect x="157.54" y="224.96" width="3.72" height="5.64" fill="#30fa80"/>
<rect x="161.11" y="224.96" width="3.72" height="5.64" fill="#ffff10"/>
<rect x="164.68" y="224.96" width="7.29" height="5.64" fill="#80f008"/>
<rect x="171.81" y="224.96" width="14.43" height="5.64" fill="#ffff10"/>
<rect x="186.09" y="224.96" width="3.72" height="5.64" fill="#00e4ff"/>
<rect x="196.79" y="224.96" width="7.29" height="5.64" fill="#ffff10"/>
<rect x="203.93" y="224.96" width="3.72" height="5.64" fill="#fa0038"/>
<rect x="36.20" y="230.45" width="7.29" height="5.64" fill="#30fa80"/>
<rect x="43.34" y="230.45" width="14.43" height="5.64" fill="#80f008"/>
<rect x="57.61" y="230.45" width="3.72" height="5.64" fill="#30fa80"/>
<rect x="61.18" y="230.45" width="3.72" height="5.64" fill="#80f008"/>
<rect x="64.75" y="230.45" width="3.72" height="5.64" fill="#30fa80"/>
<rect x="68.32" y="230.45" width="3.72" height="5.64" fill="#00e4ff"/>
<rect x="71.89" y="230.45" width="3.72" height="5.64" fill="#34c634"/>
<rect x="75.46" y="230.45" width="3.72" height="5.64" fill="#30fa80"/>
<rect x="82.59" y="230.45" width="10.86" height="5.64" fill="#30fa80"/>
<rect x="93.30" y="230.45" width="3.72" height="5.64" fill="#00e4ff"/>
<rect x="96.87" y="230.45" width="3.72" height="5.64" fill="#30fa80"/>
<rect x="100.44" y="230.45" width="3.72" height="5.64" fill="#6a52c8"/>
<rect x="104.01" y="230.45" width="3.72" height="5.64" fill="#30fa80"/>
<rect x="107.58" y="230.45" width="3.72" height="5.64" fill="#00e4ff"/>
<rect x="111.14" y="230.45" width="3.72" height="5.64" fill="#80f008"/>
<rect x="114.71" y="230.45" width="3.72" height="5.64" fill="#34c634"/>
<rect x="118.28" y="230.45" width="3.72" height="5.64" fill="#30fa80"/>
<rect x="121.85" y="230.45" width="3.72" height="5.64" fill="#34c634"/>
<rect x="132.56" y="230.45" width="3.72" height="5.64" fill="#30fa80"/>
<rect x="136.12" y="230.45" width="3.72" height="5.64" fill="#00e4ff"/>
<rect x="139.69" y="230.45" width="3.72" height="5.64" fill="#30fa80"/>
<rect x="143.26" y="230.45" width="3.72" height="5.64" fill="#34c634"/>
<rect x="146.83" y="230.45" width="3.72" height="5.64" fill="#80f008"/>
<rect x="150.40" y="230.45" width="3.72" height="5.64" fill="#a8f04c"/>
<rect x="153.97" y="230.45" width="7.29" height="5.64" fill="#ffff10"/>
<rect x="161.11" y="230.45" width="3.72" height="5.64" fill="#a8f04c"/>
<rect x="164.68" y="230.45" width="17.99" height="5.64" fill="#ffff10"/>
<rect x="189.66" y="230.45" width="3.72" height="5.64" fill="#ffff10"/>
<rect x="200.36" y="230.45" width="7.29" height="5.64" fill="#fa0038"/>
<rect x="36.20" y="235.94" width="7.29" height="5.64" fill="#30fa80"/>
<rect x="43.34" y="235.94" width="14.43" height="5.64" fill="#80f008"/>
<rect x="57.61" y="235.94" width="7.29" height="5.64" fill="#30fa80"/>
<rect x="64.75" y="235.94" width="3.72" height="5.64" fill="#80f008"/>
<rect x="68.32" y="235.94" width="7.29" height="5.64" fill="#30fa80"/>
<rect x="75.46" y="235.94" width="3.72" height="5.64" fill="#9d00c8"/>
<rect x="82.59" y="235.94" width="7.29" height="5.64" fill="#30fa80"/>
<rect x="89.73" y="235.94" width="7.29" height="5.64" fill="#00e4ff"/>
<rect x="96.87" y="235.94" width="7.29" height="5.64" fill="#30fa80"/>
<rect x="104.01" y="235.94" width="3.72" height="5.64" fill="#6a52c8"/>
<rect x="107.58" y="235.94" width="3.72" height="5.64" fill="#00e4ff"/>
<rect x="111.14" y="235.94" width="3.72" height="5.64" fill="#80f008"/>
<rect x="114.71" y="235.94" width="3.72" height="5.64" fill="#30fa80"/>
<rect x="118.28" y="235.94" width="3.72" height="5.64" fill="#34c634"/>
<rect x="121.85" y="235.94" width="3.72" height="5.64" fill="#30fa80"/>
<rect x="132.56" y="235.94" width="3.72" height="5.64" fill="#34c634"/>
<rect x="136.12" y="235.94" width="3.72" height="5.64" fill="#00e4ff"/>
<rect x="139.69" y="235.94" width="3.72" height="5.64" fill="#34c634"/>
<rect x="143.26" y="235.94" width="3.72" height="5.64" fill="#30fa80"/>
<rect x="146.83" y="235.94" width="3.72" height="5.64" fill="#a8f04c"/>
<rect x="150.40" y="235.94" width="32.27" height="5.64" fill="#ffff10"/>
<rect x="182.52" y="235.94" width="3.72" height="5.64" fill="#00e4ff"/>
<rect x="186.09" y="235.94" width="3.72" height="5.64" fill="#a8f04c"/>
<rect x="189.66" y="235.94" width="10.86" height="5.64" fill="#ffff10"/>
<rect x="200.36" y="235.94" width="7.29" height="5.64" fill="#fa0038"/>
<rect x="36.20" y="241.44" width="7.29" height="5.64" fill="#30fa80"/>
<rect x="43.34" y="241.44" width="3.72" height="5.64" fill="#a8f04c"/>
<rect x="46.91" y="241.44" width="10.86" height="5.64" fill="#80f008"/>
<rect x="57.61" y="241.44" width="3.72" height="5.64" fill="#30fa80"/>
<rect x="61.18" y="241.44" width="3.72" height="5.64" fill="#80f008"/>
<rect x="64.75" y="241.44" width="7.29" height="5.64" fill="#30fa80"/>
<rect x="71.89" y="241.44" width="3.72" height="5.64" fill="#6a52c8"/>
<rect x="75.46" y="241.44" width="3.72" height="5.64" fill="#9d00c8"/>
<rect x="79.03" y="241.44" width="10.86" height="5.64" fill="#30fa80"/>
<rect x="89.73" y="241.44" width="7.29" height="5.64" fill="#00e4ff"/>
<rect x="96.87" y="241.44" width="3.72" height="5.64" fill="#30fa80"/>
<rect x="100.44" y="241.44" width="3.72" height="5.64" fill="#00e4ff"/>
<rect x="104.01" y="241.44" width="3.72" height="5.64" fill="#6a52c8"/>
<rect x="107.58" y="241.44" width="3.72" height="5.64" fill="#30fa80"/>
<rect x="111.14" y="241.44" width="3.72" height="5.64" fill="#80f008"/>
<rect x="114.71" y="241.44" width="3.72" height="5.64" fill="#30fa80"/>
<rect x="118.28" y="241.44" width="7.29" height="5.64" fill="#34c634"/>
<rect x="125.42" y="241.44" width="7.29" height="5.64" fill="#00e4ff"/>
<rect x="132.56" y="241.44" width="3.72" height="5.64" fill="#30fa80"/>
<rect x="136.12" y="241.44" width="3.72" height="5.64" fill="#00e4ff"/>
<rect x="139.69" y="241.44" width="3.72" height="5.64" fill="#30fa80"/>
<rect x="143.26" y="241.44" width="3.72" height="5.64" fill="#34c634"/>
<rect x="146.83" y="241.44" width="3.72" height="5.64" fill="#a8f04c"/>
<rect x="150.40" y="241.44" width="7.29" height="5.64" fill="#ffff10"/>
<rect x="157.54" y="241.44" width="10.86" height="5.64" fill="#ffd800"/>
<rect x="168.24" y="241.44" width="17.99" height="5.64" fill="#ffff10"/>
<rect x="186.09" y="241.44" width="3.72" height="5.64" fill="#a8f04c"/>
<rect x="189.66" y="241.44" width="10.86" height="5.64" fill="#ffff10"/>
<rect x="200.36" y="241.44" width="7.29" height="5.64" fill="#fa0038"/>
<rect x="36.20" y="246.93" width="7.29" height="5.64" fill="#30fa80"/>
<rect x="43.34" y="246.93" width="14.43" height="5.64" fill="#80f008"/>
<rect x="57.61" y="246.93" width="7.29" height="5.64" fill="#30fa80"/>
<rect x="64.75" y="246.93" width="10.86" height="5.64" fill="#00e4ff"/>
<rect x="75.46" y="246.93" width="7.29" height="5.64" fill="#30fa80"/>
<rect x="82.59" y="246.93" width="3.72" height="5.64" fill="#80f008"/>
<rect x="86.16" y="246.93" width="3.72" height="5.64" fill="#6a52c8"/>
<rect x="89.73" y="246.93" width="3.72" height="5.64" fill="#4169e8"/>
<rect x="93.30" y="246.93" width="3.72" height="5.64" fill="#80f008"/>
<rect x="96.87" y="246.93" width="3.72" height="5.64" fill="#30fa80"/>
<rect x="100.44" y="246.93" width="3.72" height="5.64" fill="#00e4ff"/>
<rect x="104.01" y="246.93" width="3.72" height="5.64" fill="#30fa80"/>
<rect x="107.58" y="246.93" width="3.72" height="5.64" fill="#80f008"/>
<rect x="111.14" y="246.93" width="14.43" height="5.64" fill="#30fa80"/>
<rect x="125.42" y="246.93" width="3.72" height="5.64" fill="#34c634"/>
<rect x="128.99" y="246.93" width="3.72" height="5.64" fill="#30fa80"/>
<rect x="132.56" y="246.93" width="3.72" height="5.64" fill="#34c634"/>
<rect x="136.12" y="246.93" width="7.29" height="5.64" fill="#00e4ff"/>
<rect x="143.26" y="246.93" width="3.72" height="5.64" fill="#30fa80"/>
<rect x="146.83" y="246.93" width="3.72" height="5.64" fill="#a8f04c"/>
<rect x="150.40" y="246.93" width="7.29" height="5.64" fill="#ffff10"/>
<rect x="157.54" y="246.93" width="3.72" height="5.64" fill="#ffd800"/>
<rect x="161.11" y="246.93" width="7.29" height="5.64" fill="#ffa600"/>
<rect x="168.24" y="246.93" width="3.72" height="5.64" fill="#ffd800"/>
<rect x="171.81" y="246.93" width="28.70" height="5.64" fill="#ffff10"/>
<rect x="200.36" y="246.93" width="7.29" height="5.64" fill="#fa0038"/>
<rect x="36.20" y="252.43" width="7.29" height="5.64" fill="#30fa80"/>
<rect x="43.34" y="252.43" width="7.29" height="5.64" fill="#80f008"/>
<rect x="50.48" y="252.43" width="3.72" height="5.64" fill="#a8f04c"/>
<rect x="54.04" y="252.43" width="7.29" height="5.64" fill="#30fa80"/>
<rect x="61.18" y="252.43" width="3.72" height="5.64" fill="#80f008"/>
<rect x="64.75" y="252.43" width="3.72" height="5.64" fill="#30fa80"/>
<rect x="68.32" y="252.43" width="3.72" height="5.64" fill="#00e4ff"/>
<rect x="71.89" y="252.43" width="7.29" height="5.64" fill="#ffff10"/>
<rect x="79.03" y="252.43" width="7.29" height="5.64" fill="#00e4ff"/>
<rect x="86.16" y="252.43" width="3.72" height="5.64" fill="#6a52c8"/>
<rect x="89.73" y="252.43" width="7.29" height="5.64" fill="#30fa80"/>
<rect x="96.87" y="252.43" width="3.72" height="5.64" fill="#00e4ff"/>
<rect x="100.44" y="252.43" width="3.72" height="5.64" fill="#30fa80"/>
<rect x="104.01" y="252.43" width="3.72" height="5.64" fill="#80f008"/>
<rect x="107.58" y="252.43" width="3.72" height="5.64" fill="#30fa80"/>
<rect x="111.14" y="252.43" width="3.72" height="5.64" fill="#00e4ff"/>
<rect x="114.71" y="252.43" width="3.72" height="5.64" fill="#80f008"/>
<rect x="118.28" y="252.43" width="10.86" height="5.64" fill="#30fa80"/>
<rect x="128.99" y="252.43" width="3.72" height="5.64" fill="#34c634"/>
<rect x="132.56" y="252.43" width="3.72" height="5.64" fill="#30fa80"/>
<rect x="136.12" y="252.43" width="3.72" height="5.64" fill="#00e4ff"/>
<rect x="139.69" y="252.43" width="3.72" height="5.64" fill="#30fa80"/>
<rect x="143.26" y="252.43" width="3.72" height="5.64" fill="#80f008"/>
<rect x="146.83" y="252.43" width="3.72" height="5.64" fill="#a8f04c"/>
<rect x="150.40" y="252.43" width="3.72" height="5.64" fill="#ffff10"/>
<rect x="153.97" y="252.43" width="3.72" height="5.64" fill="#ffd800"/>
<rect x="157.54" y="252.43" width="7.29" height="5.64" fill="#ffa600"/>
<rect x="164.68" y="252.43" width="3.72" height="5.64" fill="#fa0038"/>
<rect x="168.24" y="252.43" width="3.72" height="5.64" fill="#ffa600"/>
<rect x="171.81" y="252.43" width="3.72" height="5.64" fill="#fa0038"/>
<rect x="175.38" y="252.43" width="3.72" height="5.64" fill="#ffd800"/>
<rect x="178.95" y="252.43" width="21.56" height="5.64" fill="#ffff10"/>
<rect x="200.36" y="252.43" width="7.29" height="5.64" fill="#fa0038"/>
<rect x="36.20" y="257.92" width="10.86" height="5.64" fill="#30fa80"/>
<rect x="46.91" y="257.92" width="3.72" height="5.64" fill="#80f008"/>
<rect x="50.48" y="257.92" width="3.72" height="5.64" fill="#30fa80"/>
<rect x="54.04" y="257.92" width="3.72" height="5.64" fill="#80f008"/>
<rect x="57.61" y="257.92" width="7.29" height="5.64" fill="#30fa80"/>
<rect x="64.75" y="257.92" width="3.72" height="5.64" fill="#80f008"/>
<rect x="68.32" y="257.92" width="3.72" height="5.64" fill="#30fa80"/>
<rect x="71.89" y="257.92" width="3.72" height="5.64" fill="#ffff10"/>
<rect x="75.46" y="257.92" width="3.72" height="5.64" fill="#30fa80"/>
<rect x="79.03" y="257.92" width="7.29" height="5.64" fill="#00e4ff"/>
<rect x="86.16" y="257.92" width="10.86" height="5.64" fill="#30fa80"/>
<rect x="96.87" y="257.92" width="3.72" height="5.64" fill="#80f008"/>
<rect x="100.44" y="257.92" width="3.72" height="5.64" fill="#30fa80"/>
<rect x="104.01" y="257.92" width="3.72" height="5.64" fill="#4169e8"/>
<rect x="107.58" y="257.92" width="10.86" height="5.64" fill="#30fa80"/>
<rect x="118.28" y="257.92" width="3.72" height="5.64" fill="#80f008"/>
<rect x="121.85" y="257.92" width="3.72" height="5.64" fill="#30fa80"/>
<rect x="125.42" y="257.92" width="3.72" height="5.64" fill="#34c634"/>
<rect x="128.99" y="257.92" width="7.29" height="5.64" fill="#30fa80"/>
<rect x="136.12" y="257.92" width="3.72" height="5.64" fill="#34c634"/>
<rect x="139.69" y="257.92" width="3.72" height="5.64" fill="#30fa80"/>
<rect x="143.26" y="257.92" width="3.72" height="5.64" fill="#80f008"/>
<rect x="146.83" y="257.92" width="7.29" height="5.64" fill="#ffff10"/>
<rect x="153.97" y="257.92" width="3.72" height="5.64" fill="#ffd800"/>
<rect x="157.54" y="257.92" width="7.29" height="5.64" fill="#ffa600"/>
<rect x="164.68" y="257.92" width="3.72" height="5.64" fill="#fa0038"/>
<rect x="168.24" y="257.92" width="3.72" height="5.64" fill="#ffa600"/>
<rect x="171.81" y="257.92" width="7.29" height="5.64" fill="#ffd800"/>
<rect x="178.95" y="257.92" width="21.56" height="5.64" fill="#ffff10"/>
<rect x="200.36" y="257.92" width="3.72" height="5.64" fill="#ffd800"/>
<rect x="203.93" y="257.92" width="3.72" height="5.64" fill="#ffa600"/>
<rect x="36.20" y="263.42" width="10.86" height="5.64" fill="#30fa80"/>
<rect x="46.91" y="263.42" width="3.72" height="5.64" fill="#80f008"/>
<rect x="50.48" y="263.42" width="10.86" height="5.64" fill="#30fa80"/>
<rect x="61.18" y="263.42" width="3.72" height="5.64" fill="#80f008"/>
<rect x="64.75" y="263.42" width="7.29" height="5.64" fill="#00e4ff"/>
<rect x="71.89" y="263.42" width="7.29" height="5.64" fill="#30fa80"/>
<rect x="79.03" y="263.42" width="7.29" height="5.64" fill="#00e4ff"/>
<rect x="86.16" y="263.42" width="3.72" height="5.64" fill="#30fa80"/>
<rect x="89.73" y="263.42" width="3.72" height="5.64" fill="#80f008"/>
<rect x="93.30" y="263.42" width="10.86" height="5.64" fill="#30fa80"/>
<rect x="104.01" y="263.42" width="3.72" height="5.64" fill="#00e4ff"/>
<rect x="107.58" y="263.42" width="3.72" height="5.64" fill="#80f008"/>
<rect x="111.14" y="263.42" width="3.72" height="5.64" fill="#30fa80"/>
<rect x="114.71" y="263.42" width="3.72" height="5.64" fill="#00e4ff"/>
<rect x="118.28" y="263.42" width="3.72" height="5.64" fill="#30fa80"/>
<rect x="121.85" y="263.42" width="3.72" height="5.64" fill="#34c634"/>
<rect x="125.42" y="263.42" width="7.29" height="5.64" fill="#30fa80"/>
<rect x="132.56" y="263.42" width="3.72" height="5.64" fill="#34c634"/>
<rect x="136.12" y="263.42" width="3.72" height="5.64" fill="#30fa80"/>
<rect x="139.69" y="263.42" width="3.72" height="5.64" fill="#80f008"/>
<rect x="143.26" y="263.42" width="3.72" height="5.64" fill="#a8f04c"/>
<rect x="146.83" y="263.42" width="7.29" height="5.64" fill="#ffff10"/>
<rect x="153.97" y="263.42" width="7.29" height="5.64" fill="#ffd800"/>
<rect x="161.11" y="263.42" width="10.86" height="5.64" fill="#ffa600"/>
<rect x="171.81" y="263.42" width="3.72" height="5.64" fill="#ffd800"/>
<rect x="175.38" y="263.42" width="28.70" height="5.64" fill="#ffff10"/>
<rect x="203.93" y="263.42" width="3.72" height="5.64" fill="#ffa600"/>
<rect x="36.20" y="268.91" width="7.29" height="5.64" fill="#30fa80"/>
<rect x="43.34" y="268.91" width="3.72" height="5.64" fill="#80f008"/>
<rect x="46.91" y="268.91" width="7.29" height="5.64" fill="#30fa80"/>
<rect x="54.04" y="268.91" width="3.72" height="5.64" fill="#80f008"/>
<rect x="57.61" y="268.91" width="10.86" height="5.64" fill="#30fa80"/>
<rect x="68.32" y="268.91" width="3.72" height="5.64" fill="#00e4ff"/>
<rect x="71.89" y="268.91" width="3.72" height="5.64" fill="#30fa80"/>
<rect x="75.46" y="268.91" width="3.72" height="5.64" fill="#80f008"/>
<rect x="79.03" y="268.91" width="3.72" height="5.64" fill="#6a52c8"/>
<rect x="82.59" y="268.91" width="10.86" height="5.64" fill="#30fa80"/>
<rect x="93.30" y="268.91" width="3.72" height="5.64" fill="#00e4ff"/>
<rect x="96.87" y="268.91" width="3.72" height="5.64" fill="#30fa80"/>
<rect x="100.44" y="268.91" width="3.72" height="5.64" fill="#80f008"/>
<rect x="104.01" y="268.91" width="3.72" height="5.64" fill="#00e4ff"/>
<rect x="107.58" y="268.91" width="3.72" height="5.64" fill="#30fa80"/>
<rect x="111.14" y="268.91" width="3.72" height="5.64" fill="#80f008"/>
<rect x="114.71" y="268.91" width="3.72" height="5.64" fill="#30fa80"/>
<rect x="118.28" y="268.91" width="7.29" height="5.64" fill="#00e4ff"/>
<rect x="125.42" y="268.91" width="3.72" height="5.64" fill="#30fa80"/>
<rect x="128.99" y="268.91" width="3.72" height="5.64" fill="#34c634"/>
<rect x="132.56" y="268.91" width="7.29" height="5.64" fill="#30fa80"/>
<rect x="139.69" y="268.91" width="3.72" height="5.64" fill="#a8f04c"/>
<rect x="143.26" y="268.91" width="3.72" height="5.64" fill="#80f008"/>
<rect x="146.83" y="268.91" width="10.86" height="5.64" fill="#ffff10"/>
<rect x="157.54" y="268.91" width="3.72" height="5.64" fill="#ffd800"/>
<rect x="161.11" y="268.91" width="10.86" height="5.64" fill="#ffa600"/>
<rect x="171.81" y="268.91" width="3.72" height="5.64" fill="#ffd800"/>
<rect x="175.38" y="268.91" width="32.27" height="5.64" fill="#ffff10"/>
<rect x="36.20" y="274.41" width="10.86" height="5.64" fill="#30fa80"/>
<rect x="46.91" y="274.41" width="7.29" height="5.64" fill="#80f008"/>
<rect x="54.04" y="274.41" width="7.29" height="5.64" fill="#30fa80"/>
<rect x="61.18" y="274.41" width="3.72" height="5.64" fill="#80f008"/>
<rect x="64.75" y="274.41" width="3.72" height="5.64" fill="#00e4ff"/>
<rect x="68.32" y="274.41" width="3.72" height="5.64" fill="#30fa80"/>
<rect x="71.89" y="274.41" width="3.72" height="5.64" fill="#00e4ff"/>
<rect x="75.46" y="274.41" width="3.72" height="5.64" fill="#30fa80"/>
<rect x="79.03" y="274.41" width="3.72" height="5.64" fill="#6a52c8"/>
<rect x="82.59" y="274.41" width="3.72" height="5.64" fill="#00e4ff"/>
<rect x="86.16" y="274.41" width="3.72" height="5.64" fill="#80f008"/>
<rect x="89.73" y="274.41" width="3.72" height="5.64" fill="#30fa80"/>
<rect x="93.30" y="274.41" width="7.29" height="5.64" fill="#00e4ff"/>
<rect x="100.44" y="274.41" width="3.72" height="5.64" fill="#30fa80"/>
<rect x="104.01" y="274.41" width="3.72" height="5.64" fill="#80f008"/>
<rect x="107.58" y="274.41" width="3.72" height="5.64" fill="#00e4ff"/>
<rect x="111.14" y="274.41" width="3.72" height="5.64" fill="#30fa80"/>
<rect x="114.71" y="274.41" width="3.72" height="5.64" fill="#00e4ff"/>
<rect x="118.28" y="274.41" width="3.72" height="5.64" fill="#30fa80"/>
<rect x="121.85" y="274.41" width="3.72" height="5.64" fill="#00e4ff"/>
<rect x="125.42" y="274.41" width="3.72" height="5.64" fill="#34c634"/>
<rect x="128.99" y="274.41" width="7.29" height="5.64" fill="#30fa80"/>
<rect x="136.12" y="274.41" width="3.72" height="5.64" fill="#80f008"/>
<rect x="139.69" y="274.41" width="7.29" height="5.64" fill="#a8f04c"/>
<rect x="146.83" y="274.41" width="10.86" height="5.64" fill="#ffff10"/>
<rect x="157.54" y="274.41" width="3.72" height="5.64" fill="#ffd800"/>
<rect x="161.11" y="274.41" width="10.86" height="5.64" fill="#ffa600"/>
<rect x="171.81" y="274.41" width="3.72" height="5.64" fill="#ffd800"/>
<rect x="175.38" y="274.41" width="10.86" height="5.64" fill="#ffff10"/>
<rect x="186.09" y="274.41" width="7.29" height="5.64" fill="#a8f04c"/>
<rect x="193.23" y="274.41" width="14.43" height="5.64" fill="#ffff10"/>
</g>
<g shape-rendering="crispEdges">
<rect x="302.00" y="50.20" width="6.83" height="5.72" fill="#00e4ff"/>
<rect x="308.68" y="50.20" width="49.97" height="5.72" fill="#10b4f8"/>
<rect x="358.50" y="50.20" width="28.23" height="5.72" fill="#4169e8"/>
<rect x="302.00" y="55.77" width="6.83" height="5.72" fill="#00e4ff"/>
<rect x="308.68" y="55.77" width="78.05" height="5.72" fill="#10b4f8"/>
<rect x="302.00" y="61.33" width="6.83" height="5.72" fill="#00e4ff"/>
<rect x="308.68" y="61.33" width="29.14" height="5.72" fill="#10b4f8"/>
<rect x="337.67" y="61.33" width="20.98" height="5.72" fill="#00e4ff"/>
<rect x="358.50" y="61.33" width="28.23" height="5.72" fill="#10b4f8"/>
<rect x="302.00" y="66.90" width="6.83" height="5.72" fill="#00e4ff"/>
<rect x="308.68" y="66.90" width="21.89" height="5.72" fill="#10b4f8"/>
<rect x="330.42" y="66.90" width="56.31" height="5.72" fill="#00e4ff"/>
<rect x="302.00" y="72.47" width="6.83" height="5.72" fill="#00e4ff"/>
<rect x="308.68" y="72.47" width="14.64" height="5.72" fill="#10b4f8"/>
<rect x="323.17" y="72.47" width="63.56" height="5.72" fill="#00e4ff"/>
<rect x="302.00" y="78.03" width="2.48" height="5.72" fill="#10b4f8"/>
<rect x="304.33" y="78.03" width="4.50" height="5.72" fill="#00e4ff"/>
<rect x="308.68" y="78.03" width="7.40" height="5.72" fill="#10b4f8"/>
<rect x="315.93" y="78.03" width="70.80" height="5.72" fill="#00e4ff"/>
<rect x="302.00" y="83.60" width="2.48" height="5.72" fill="#10b4f8"/>
<rect x="304.33" y="83.60" width="4.50" height="5.72" fill="#00e4ff"/>
<rect x="308.68" y="83.60" width="3.41" height="5.72" fill="#10b4f8"/>
<rect x="311.94" y="83.60" width="43.08" height="5.72" fill="#00e4ff"/>
<rect x="354.88" y="83.60" width="20.98" height="5.72" fill="#34c634"/>
<rect x="375.71" y="83.60" width="11.02" height="5.72" fill="#00e4ff"/>
<rect x="302.00" y="89.17" width="2.48" height="5.72" fill="#10b4f8"/>
<rect x="304.33" y="89.17" width="39.82" height="5.72" fill="#00e4ff"/>
<rect x="344.01" y="89.17" width="11.02" height="5.72" fill="#34c634"/>
<rect x="354.88" y="89.17" width="25.51" height="5.72" fill="#30fa80"/>
<rect x="380.24" y="89.17" width="6.49" height="5.72" fill="#34c634"/>
<rect x="302.00" y="94.73" width="2.48" height="5.72" fill="#10b4f8"/>
<rect x="304.33" y="94.73" width="36.20" height="5.72" fill="#00e4ff"/>
<rect x="340.38" y="94.73" width="3.77" height="5.72" fill="#34c634"/>
<rect x="344.01" y="94.73" width="42.72" height="5.72" fill="#30fa80"/>
<rect x="302.00" y="100.30" width="2.48" height="5.72" fill="#10b4f8"/>
<rect x="304.33" y="100.30" width="33.12" height="5.72" fill="#00e4ff"/>
<rect x="337.30" y="100.30" width="3.77" height="5.72" fill="#34c634"/>
<rect x="340.93" y="100.30" width="45.80" height="5.72" fill="#30fa80"/>
<rect x="302.00" y="105.87" width="2.48" height="5.72" fill="#10b4f8"/>
<rect x="304.33" y="105.87" width="29.50" height="5.72" fill="#00e4ff"/>
<rect x="333.68" y="105.87" width="3.77" height="5.72" fill="#34c634"/>
<rect x="337.30" y="105.87" width="49.43" height="5.72" fill="#30fa80"/>
<rect x="302.00" y="111.43" width="2.48" height="5.72" fill="#10b4f8"/>
<rect x="304.33" y="111.43" width="29.50" height="5.72" fill="#00e4ff"/>
<rect x="333.68" y="111.43" width="3.77" height="5.72" fill="#34c634"/>
<rect x="337.30" y="111.43" width="49.43" height="5.72" fill="#30fa80"/>
<rect x="302.00" y="117.00" width="2.48" height="5.72" fill="#10b4f8"/>
<rect x="304.33" y="117.00" width="26.24" height="5.72" fill="#00e4ff"/>
<rect x="330.42" y="117.00" width="3.41" height="5.72" fill="#34c634"/>
<rect x="333.68" y="117.00" width="53.05" height="5.72" fill="#30fa80"/>
<rect x="302.00" y="122.57" width="2.48" height="5.72" fill="#10b4f8"/>
<rect x="304.33" y="122.57" width="26.24" height="5.72" fill="#00e4ff"/>
<rect x="330.42" y="122.57" width="3.41" height="5.72" fill="#34c634"/>
<rect x="333.68" y="122.57" width="53.05" height="5.72" fill="#30fa80"/>
<rect x="302.00" y="128.13" width="2.48" height="5.72" fill="#10b4f8"/>
<rect x="304.33" y="128.13" width="26.24" height="5.72" fill="#00e4ff"/>
<rect x="330.42" y="128.13" width="3.41" height="5.72" fill="#34c634"/>
<rect x="333.68" y="128.13" width="53.05" height="5.72" fill="#30fa80"/>
<rect x="302.00" y="133.70" width="2.48" height="5.72" fill="#10b4f8"/>
<rect x="304.33" y="133.70" width="26.24" height="5.72" fill="#00e4ff"/>
<rect x="330.42" y="133.70" width="3.41" height="5.72" fill="#34c634"/>
<rect x="333.68" y="133.70" width="53.05" height="5.72" fill="#30fa80"/>
<rect x="302.00" y="139.27" width="2.48" height="5.72" fill="#10b4f8"/>
<rect x="304.33" y="139.27" width="26.24" height="5.72" fill="#00e4ff"/>
<rect x="330.42" y="139.27" width="3.41" height="5.72" fill="#34c634"/>
<rect x="333.68" y="139.27" width="53.05" height="5.72" fill="#30fa80"/>
<rect x="302.00" y="144.83" width="2.48" height="5.72" fill="#10b4f8"/>
<rect x="304.33" y="144.83" width="26.24" height="5.72" fill="#00e4ff"/>
<rect x="330.42" y="144.83" width="3.41" height="5.72" fill="#34c634"/>
<rect x="333.68" y="144.83" width="53.05" height="5.72" fill="#30fa80"/>
<rect x="387.43" y="50.20" width="3.77" height="5.72" fill="#6a52c8"/>
<rect x="391.06" y="50.20" width="3.77" height="5.72" fill="#9d00c8"/>
<rect x="394.68" y="50.20" width="41.82" height="5.72" fill="#c9c9fb"/>
<rect x="436.35" y="50.20" width="18.27" height="5.72" fill="#9d00c8"/>
<rect x="454.46" y="50.20" width="14.64" height="5.72" fill="#6a52c8"/>
<rect x="468.96" y="50.20" width="3.77" height="5.72" fill="#30fa80"/>
<rect x="387.43" y="55.77" width="2.32" height="5.72" fill="#4169e8"/>
<rect x="389.61" y="55.77" width="8.85" height="5.72" fill="#6a52c8"/>
<rect x="398.30" y="55.77" width="3.77" height="5.72" fill="#9d00c8"/>
<rect x="401.93" y="55.77" width="28.23" height="5.72" fill="#c9c9fb"/>
<rect x="430.01" y="55.77" width="28.23" height="5.72" fill="#9d00c8"/>
<rect x="458.09" y="55.77" width="11.02" height="5.72" fill="#6a52c8"/>
<rect x="468.96" y="55.77" width="3.77" height="5.72" fill="#34c634"/>
<rect x="387.43" y="61.33" width="1.60" height="5.72" fill="#00e4ff"/>
<rect x="388.88" y="61.33" width="3.23" height="5.72" fill="#4169e8"/>
<rect x="391.96" y="61.33" width="10.11" height="5.72" fill="#6a52c8"/>
<rect x="401.93" y="61.33" width="7.40" height="5.72" fill="#9d00c8"/>
<rect x="409.17" y="61.33" width="17.36" height="5.72" fill="#c9c9fb"/>
<rect x="426.38" y="61.33" width="39.10" height="5.72" fill="#9d00c8"/>
<rect x="465.33" y="61.33" width="3.77" height="5.72" fill="#6a52c8"/>
<rect x="468.96" y="61.33" width="3.77" height="5.72" fill="#00e4ff"/>
<rect x="387.43" y="66.90" width="2.87" height="5.72" fill="#00e4ff"/>
<rect x="390.15" y="66.90" width="1.96" height="5.72" fill="#10b4f8"/>
<rect x="391.96" y="66.90" width="2.87" height="5.72" fill="#4169e8"/>
<rect x="394.68" y="66.90" width="14.64" height="5.72" fill="#6a52c8"/>
<rect x="409.17" y="66.90" width="56.31" height="5.72" fill="#9d00c8"/>
<rect x="465.33" y="66.90" width="3.77" height="5.72" fill="#6a52c8"/>
<rect x="468.96" y="66.90" width="3.77" height="5.72" fill="#00e4ff"/>
<rect x="387.43" y="72.47" width="4.68" height="5.72" fill="#00e4ff"/>
<rect x="391.96" y="72.47" width="2.87" height="5.72" fill="#10b4f8"/>
<rect x="394.68" y="72.47" width="3.77" height="5.72" fill="#4169e8"/>
<rect x="398.30" y="72.47" width="42.72" height="5.72" fill="#6a52c8"/>
<rect x="440.88" y="72.47" width="24.61" height="5.72" fill="#9d00c8"/>
<rect x="465.33" y="72.47" width="3.77" height="5.72" fill="#6a52c8"/>
<rect x="468.96" y="72.47" width="3.77" height="5.72" fill="#00e4ff"/>
<rect x="387.43" y="78.03" width="5.95" height="5.72" fill="#00e4ff"/>
<rect x="393.23" y="78.03" width="4.86" height="5.72" fill="#10b4f8"/>
<rect x="397.94" y="78.03" width="3.77" height="5.72" fill="#4169e8"/>
<rect x="401.57" y="78.03" width="43.08" height="5.72" fill="#6a52c8"/>
<rect x="444.50" y="78.03" width="10.11" height="5.72" fill="#9d00c8"/>
<rect x="454.46" y="78.03" width="11.02" height="5.72" fill="#c9c9fb"/>
<rect x="465.33" y="78.03" width="3.77" height="5.72" fill="#6a52c8"/>
<rect x="468.96" y="78.03" width="3.77" height="5.72" fill="#4169e8"/>
<rect x="387.43" y="83.60" width="7.40" height="5.72" fill="#00e4ff"/>
<rect x="394.68" y="83.60" width="3.77" height="5.72" fill="#10b4f8"/>
<rect x="398.30" y="83.60" width="6.49" height="5.72" fill="#4169e8"/>
<rect x="404.64" y="83.60" width="43.63" height="5.72" fill="#6a52c8"/>
<rect x="448.12" y="83.60" width="6.49" height="5.72" fill="#9d00c8"/>
<rect x="454.46" y="83.60" width="11.02" height="5.72" fill="#c9c9fb"/>
<rect x="465.33" y="83.60" width="7.40" height="5.72" fill="#6a52c8"/>
<rect x="387.43" y="89.17" width="2.32" height="5.72" fill="#34c634"/>
<rect x="389.61" y="89.17" width="8.48" height="5.72" fill="#00e4ff"/>
<rect x="397.94" y="89.17" width="3.77" height="5.72" fill="#10b4f8"/>
<rect x="401.57" y="89.17" width="6.85" height="5.72" fill="#4169e8"/>
<rect x="408.27" y="89.17" width="40.01" height="5.72" fill="#6a52c8"/>
<rect x="448.12" y="89.17" width="6.49" height="5.72" fill="#9d00c8"/>
<rect x="454.46" y="89.17" width="11.02" height="5.72" fill="#c9c9fb"/>
<rect x="465.33" y="89.17" width="7.40" height="5.72" fill="#6a52c8"/>
<rect x="387.43" y="94.73" width="1.60" height="5.72" fill="#30fa80"/>
<rect x="388.88" y="94.73" width="2.32" height="5.72" fill="#34c634"/>
<rect x="391.06" y="94.73" width="7.40" height="5.72" fill="#00e4ff"/>
<rect x="398.30" y="94.73" width="6.49" height="5.72" fill="#10b4f8"/>
<rect x="404.64" y="94.73" width="7.40" height="5.72" fill="#4169e8"/>
<rect x="411.89" y="94.73" width="40.01" height="5.72" fill="#6a52c8"/>
<rect x="451.75" y="94.73" width="6.49" height="5.72" fill="#9d00c8"/>
<rect x="458.09" y="94.73" width="7.40" height="5.72" fill="#c9c9fb"/>
<rect x="465.33" y="94.73" width="7.40" height="5.72" fill="#6a52c8"/>
<rect x="387.43" y="100.30" width="3.77" height="5.72" fill="#30fa80"/>
<rect x="391.06" y="100.30" width="3.41" height="5.72" fill="#34c634"/>
<rect x="394.32" y="100.30" width="6.85" height="5.72" fill="#00e4ff"/>
<rect x="401.02" y="100.30" width="4.68" height="5.72" fill="#10b4f8"/>
<rect x="405.55" y="100.30" width="6.49" height="5.72" fill="#4169e8"/>
<rect x="411.89" y="100.30" width="40.01" height="5.72" fill="#6a52c8"/>
<rect x="451.75" y="100.30" width="6.49" height="5.72" fill="#9d00c8"/>
<rect x="458.09" y="100.30" width="7.40" height="5.72" fill="#c9c9fb"/>
<rect x="465.33" y="100.30" width="3.77" height="5.72" fill="#9d00c8"/>
<rect x="468.96" y="100.30" width="3.77" height="5.72" fill="#6a52c8"/>
<rect x="387.43" y="105.87" width="3.77" height="5.72" fill="#30fa80"/>
<rect x="391.06" y="105.87" width="3.41" height="5.72" fill="#34c634"/>
<rect x="394.32" y="105.87" width="10.48" height="5.72" fill="#00e4ff"/>
<rect x="404.64" y="105.87" width="7.40" height="5.72" fill="#10b4f8"/>
<rect x="411.89" y="105.87" width="14.64" height="5.72" fill="#4169e8"/>
<rect x="426.38" y="105.87" width="3.77" height="5.72" fill="#6a52c8"/>
<rect x="430.01" y="105.87" width="14.64" height="5.72" fill="#4169e8"/>
<rect x="444.50" y="105.87" width="10.11" height="5.72" fill="#6a52c8"/>
<rect x="454.46" y="105.87" width="3.77" height="5.72" fill="#9d00c8"/>
<rect x="458.09" y="105.87" width="3.77" height="5.72" fill="#c9c9fb"/>
<rect x="461.71" y="105.87" width="4.68" height="5.72" fill="#9d00c8"/>
<rect x="466.24" y="105.87" width="6.49" height="5.72" fill="#6a52c8"/>
<rect x="387.43" y="111.43" width="7.03" height="5.72" fill="#30fa80"/>
<rect x="394.32" y="111.43" width="3.77" height="5.72" fill="#34c634"/>
<rect x="397.94" y="111.43" width="7.76" height="5.72" fill="#00e4ff"/>
<rect x="405.55" y="111.43" width="6.49" height="5.72" fill="#10b4f8"/>
<rect x="411.89" y="111.43" width="32.76" height="5.72" fill="#4169e8"/>
<rect x="444.50" y="111.43" width="10.11" height="5.72" fill="#6a52c8"/>
<rect x="454.46" y="111.43" width="11.93" height="5.72" fill="#9d00c8"/>
<rect x="466.24" y="111.43" width="6.49" height="5.72" fill="#6a52c8"/>
<rect x="387.43" y="117.00" width="7.03" height="5.72" fill="#30fa80"/>
<rect x="394.32" y="117.00" width="3.77" height="5.72" fill="#34c634"/>
<rect x="397.94" y="117.00" width="7.76" height="5.72" fill="#00e4ff"/>
<rect x="405.55" y="117.00" width="7.40" height="5.72" fill="#10b4f8"/>
<rect x="412.80" y="117.00" width="31.85" height="5.72" fill="#4169e8"/>
<rect x="444.50" y="117.00" width="10.11" height="5.72" fill="#6a52c8"/>
<rect x="454.46" y="117.00" width="11.93" height="5.72" fill="#9d00c8"/>
<rect x="466.24" y="117.00" width="6.49" height="5.72" fill="#6a52c8"/>
<rect x="387.43" y="122.57" width="10.66" height="5.72" fill="#30fa80"/>
<rect x="397.94" y="122.57" width="1.60" height="5.72" fill="#34c634"/>
<rect x="399.39" y="122.57" width="9.93" height="5.72" fill="#00e4ff"/>
<rect x="409.17" y="122.57" width="7.40" height="5.72" fill="#10b4f8"/>
<rect x="416.42" y="122.57" width="3.77" height="5.72" fill="#4169e8"/>
<rect x="420.04" y="122.57" width="3.77" height="5.72" fill="#10b4f8"/>
<rect x="423.67" y="122.57" width="10.11" height="5.72" fill="#4169e8"/>
<rect x="433.63" y="122.57" width="3.77" height="5.72" fill="#10b4f8"/>
<rect x="437.25" y="122.57" width="7.40" height="5.72" fill="#4169e8"/>
<rect x="444.50" y="122.57" width="10.11" height="5.72" fill="#6a52c8"/>
<rect x="454.46" y="122.57" width="11.93" height="5.72" fill="#9d00c8"/>
<rect x="466.24" y="122.57" width="6.49" height="5.72" fill="#6a52c8"/>
<rect x="387.43" y="128.13" width="10.66" height="5.72" fill="#30fa80"/>
<rect x="397.94" y="128.13" width="3.77" height="5.72" fill="#34c634"/>
<rect x="401.57" y="128.13" width="7.76" height="5.72" fill="#00e4ff"/>
<rect x="409.17" y="128.13" width="14.64" height="5.72" fill="#10b4f8"/>
<rect x="423.67" y="128.13" width="6.49" height="5.72" fill="#4169e8"/>
<rect x="430.01" y="128.13" width="7.40" height="5.72" fill="#10b4f8"/>
<rect x="437.25" y="128.13" width="7.40" height="5.72" fill="#4169e8"/>
<rect x="444.50" y="128.13" width="10.11" height="5.72" fill="#6a52c8"/>
<rect x="454.46" y="128.13" width="11.93" height="5.72" fill="#9d00c8"/>
<rect x="466.24" y="128.13" width="6.49" height="5.72" fill="#6a52c8"/>
<rect x="387.43" y="133.70" width="10.66" height="5.72" fill="#30fa80"/>
<rect x="397.94" y="133.70" width="3.77" height="5.72" fill="#34c634"/>
<rect x="401.57" y="133.70" width="7.76" height="5.72" fill="#00e4ff"/>
<rect x="409.17" y="133.70" width="31.85" height="5.72" fill="#10b4f8"/>
<rect x="440.88" y="133.70" width="3.77" height="5.72" fill="#4169e8"/>
<rect x="444.50" y="133.70" width="13.74" height="5.72" fill="#6a52c8"/>
<rect x="458.09" y="133.70" width="14.64" height="5.72" fill="#9d00c8"/>
<rect x="387.43" y="139.27" width="10.66" height="5.72" fill="#30fa80"/>
<rect x="397.94" y="139.27" width="3.77" height="5.72" fill="#34c634"/>
<rect x="401.57" y="139.27" width="7.76" height="5.72" fill="#00e4ff"/>
<rect x="409.17" y="139.27" width="33.66" height="5.72" fill="#10b4f8"/>
<rect x="442.69" y="139.27" width="15.55" height="5.72" fill="#6a52c8"/>
<rect x="458.09" y="139.27" width="14.64" height="5.72" fill="#9d00c8"/>
<rect x="387.43" y="144.83" width="10.66" height="5.72" fill="#30fa80"/>
<rect x="397.94" y="144.83" width="3.77" height="5.72" fill="#34c634"/>
<rect x="401.57" y="144.83" width="7.76" height="5.72" fill="#00e4ff"/>
<rect x="409.17" y="144.83" width="33.66" height="5.72" fill="#10b4f8"/>
<rect x="442.69" y="144.83" width="15.55" height="5.72" fill="#6a52c8"/>
<rect x="458.09" y="144.83" width="14.64" height="5.72" fill="#9d00c8"/>
</g>
<g shape-rendering="crispEdges">
<rect x="302.00" y="180.90" width="2.30" height="5.67" fill="#ffff10"/>
<rect x="304.15" y="180.90" width="4.68" height="5.67" fill="#ffd800"/>
<rect x="308.68" y="180.90" width="58.12" height="5.67" fill="#ffff10"/>
<rect x="366.65" y="180.90" width="6.49" height="5.67" fill="#80f008"/>
<rect x="372.99" y="180.90" width="3.77" height="5.67" fill="#30fa80"/>
<rect x="376.62" y="180.90" width="3.77" height="5.67" fill="#80f008"/>
<rect x="380.24" y="180.90" width="3.77" height="5.67" fill="#ffd800"/>
<rect x="383.86" y="180.90" width="2.87" height="5.67" fill="#ffa600"/>
<rect x="302.00" y="186.42" width="2.30" height="5.67" fill="#ffff10"/>
<rect x="304.15" y="186.42" width="4.68" height="5.67" fill="#ffd800"/>
<rect x="308.68" y="186.42" width="60.84" height="5.67" fill="#ffff10"/>
<rect x="369.37" y="186.42" width="3.77" height="5.67" fill="#a8f04c"/>
<rect x="372.99" y="186.42" width="11.02" height="5.67" fill="#ffff10"/>
<rect x="383.86" y="186.42" width="2.87" height="5.67" fill="#ffd800"/>
<rect x="302.00" y="191.93" width="2.30" height="5.67" fill="#ffff10"/>
<rect x="304.15" y="191.93" width="8.30" height="5.67" fill="#ffd800"/>
<rect x="312.30" y="191.93" width="68.08" height="5.67" fill="#ffff10"/>
<rect x="380.24" y="191.93" width="6.49" height="5.67" fill="#ffd800"/>
<rect x="302.00" y="197.45" width="1.40" height="5.67" fill="#ffff10"/>
<rect x="303.25" y="197.45" width="9.21" height="5.67" fill="#ffd800"/>
<rect x="312.30" y="197.45" width="57.22" height="5.67" fill="#ffff10"/>
<rect x="369.37" y="197.45" width="17.36" height="5.67" fill="#ffd800"/>
<rect x="302.00" y="202.97" width="10.45" height="5.67" fill="#ffd800"/>
<rect x="312.30" y="202.97" width="39.10" height="5.67" fill="#ffff10"/>
<rect x="351.25" y="202.97" width="35.48" height="5.67" fill="#ffd800"/>
<rect x="302.00" y="208.48" width="14.08" height="5.67" fill="#ffd800"/>
<rect x="315.93" y="208.48" width="24.61" height="5.67" fill="#ffff10"/>
<rect x="340.38" y="208.48" width="46.35" height="5.67" fill="#ffd800"/>
<rect x="302.00" y="214.00" width="21.32" height="5.67" fill="#ffd800"/>
<rect x="323.17" y="214.00" width="7.40" height="5.67" fill="#ffff10"/>
<rect x="330.42" y="214.00" width="43.63" height="5.67" fill="#ffd800"/>
<rect x="373.90" y="214.00" width="12.83" height="5.67" fill="#ffa600"/>
<rect x="302.00" y="219.52" width="67.52" height="5.67" fill="#ffd800"/>
<rect x="369.37" y="219.52" width="17.36" height="5.67" fill="#ffa600"/>
<rect x="302.00" y="225.03" width="60.27" height="5.67" fill="#ffd800"/>
<rect x="362.12" y="225.03" width="24.61" height="5.67" fill="#ffa600"/>
<rect x="302.00" y="230.55" width="3.21" height="5.67" fill="#ffff10"/>
<rect x="305.06" y="230.55" width="57.22" height="5.67" fill="#ffd800"/>
<rect x="362.12" y="230.55" width="24.61" height="5.67" fill="#ffa600"/>
<rect x="302.00" y="236.07" width="3.21" height="5.67" fill="#ffff10"/>
<rect x="305.06" y="236.07" width="57.22" height="5.67" fill="#ffd800"/>
<rect x="362.12" y="236.07" width="24.61" height="5.67" fill="#ffa600"/>
<rect x="302.00" y="241.58" width="3.21" height="5.67" fill="#ffff10"/>
<rect x="305.06" y="241.58" width="53.59" height="5.67" fill="#ffd800"/>
<rect x="358.50" y="241.58" width="28.23" height="5.67" fill="#ffa600"/>
<rect x="302.00" y="247.10" width="3.21" height="5.67" fill="#ffff10"/>
<rect x="305.06" y="247.10" width="53.59" height="5.67" fill="#ffd800"/>
<rect x="358.50" y="247.10" width="28.23" height="5.67" fill="#ffa600"/>
<rect x="302.00" y="252.62" width="6.83" height="5.67" fill="#ffff10"/>
<rect x="308.68" y="252.62" width="46.35" height="5.67" fill="#ffd800"/>
<rect x="354.88" y="252.62" width="31.85" height="5.67" fill="#ffa600"/>
<rect x="302.00" y="258.13" width="6.83" height="5.67" fill="#ffff10"/>
<rect x="308.68" y="258.13" width="46.35" height="5.67" fill="#ffd800"/>
<rect x="354.88" y="258.13" width="31.85" height="5.67" fill="#ffa600"/>
<rect x="302.00" y="263.65" width="8.64" height="5.67" fill="#ffff10"/>
<rect x="310.49" y="263.65" width="46.35" height="5.67" fill="#ffd800"/>
<rect x="356.69" y="263.65" width="30.04" height="5.67" fill="#ffa600"/>
<rect x="302.00" y="269.17" width="3.21" height="5.67" fill="#a8f04c"/>
<rect x="305.06" y="269.17" width="7.40" height="5.67" fill="#ffff10"/>
<rect x="312.30" y="269.17" width="46.35" height="5.67" fill="#ffd800"/>
<rect x="358.50" y="269.17" width="28.23" height="5.67" fill="#ffa600"/>
<rect x="302.00" y="274.68" width="3.21" height="5.67" fill="#a8f04c"/>
<rect x="305.06" y="274.68" width="11.02" height="5.67" fill="#ffff10"/>
<rect x="315.93" y="274.68" width="42.72" height="5.67" fill="#ffd800"/>
<rect x="358.50" y="274.68" width="28.23" height="5.67" fill="#ffa600"/>
<rect x="387.43" y="180.90" width="7.40" height="5.67" fill="#fa0038"/>
<rect x="394.68" y="180.90" width="7.40" height="5.67" fill="#ffa600"/>
<rect x="401.93" y="180.90" width="3.77" height="5.67" fill="#ffd800"/>
<rect x="405.55" y="180.90" width="25.15" height="5.67" fill="#ffa600"/>
<rect x="430.55" y="180.90" width="42.18" height="5.67" fill="#fa0038"/>
<rect x="387.43" y="186.42" width="4.68" height="5.67" fill="#ffd800"/>
<rect x="391.96" y="186.42" width="10.11" height="5.67" fill="#ffa600"/>
<rect x="401.93" y="186.42" width="3.77" height="5.67" fill="#ffd800"/>
<rect x="405.55" y="186.42" width="28.23" height="5.67" fill="#ffa600"/>
<rect x="433.63" y="186.42" width="39.10" height="5.67" fill="#fa0038"/>
<rect x="387.43" y="191.93" width="21.89" height="5.67" fill="#ffd800"/>
<rect x="409.17" y="191.93" width="28.23" height="5.67" fill="#ffa600"/>
<rect x="437.25" y="191.93" width="35.48" height="5.67" fill="#fa0038"/>
<rect x="387.43" y="197.45" width="25.51" height="5.67" fill="#ffd800"/>
<rect x="412.80" y="197.45" width="28.23" height="5.67" fill="#ffa600"/>
<rect x="440.88" y="197.45" width="31.85" height="5.67" fill="#fa0038"/>
<rect x="387.43" y="202.97" width="25.51" height="5.67" fill="#ffd800"/>
<rect x="412.80" y="202.97" width="31.85" height="5.67" fill="#ffa600"/>
<rect x="444.50" y="202.97" width="28.23" height="5.67" fill="#fa0038"/>
<rect x="387.43" y="208.48" width="25.51" height="5.67" fill="#ffd800"/>
<rect x="412.80" y="208.48" width="35.48" height="5.67" fill="#ffa600"/>
<rect x="448.12" y="208.48" width="24.61" height="5.67" fill="#fa0038"/>
<rect x="387.43" y="214.00" width="4.68" height="5.67" fill="#ffa600"/>
<rect x="391.96" y="214.00" width="13.74" height="5.67" fill="#ffd800"/>
<rect x="405.55" y="214.00" width="46.35" height="5.67" fill="#ffa600"/>
<rect x="451.75" y="214.00" width="20.98" height="5.67" fill="#fa0038"/>
<rect x="387.43" y="219.52" width="68.08" height="5.67" fill="#ffa600"/>
<rect x="455.37" y="219.52" width="17.36" height="5.67" fill="#fa0038"/>
<rect x="387.43" y="225.03" width="75.33" height="5.67" fill="#ffa600"/>
<rect x="462.62" y="225.03" width="10.11" height="5.67" fill="#fa0038"/>
<rect x="387.43" y="230.55" width="78.95" height="5.67" fill="#ffa600"/>
<rect x="466.24" y="230.55" width="6.49" height="5.67" fill="#fa0038"/>
<rect x="387.43" y="236.07" width="78.95" height="5.67" fill="#ffa600"/>
<rect x="466.24" y="236.07" width="6.49" height="5.67" fill="#fa0038"/>
<rect x="387.43" y="241.58" width="82.58" height="5.67" fill="#ffa600"/>
<rect x="469.86" y="241.58" width="2.87" height="5.67" fill="#fa0038"/>
<rect x="387.43" y="247.10" width="82.58" height="5.67" fill="#ffa600"/>
<rect x="469.86" y="247.10" width="2.87" height="5.67" fill="#fa0038"/>
<rect x="387.43" y="252.62" width="85.29" height="5.67" fill="#ffa600"/>
<rect x="387.43" y="258.13" width="85.29" height="5.67" fill="#ffa600"/>
<rect x="387.43" y="263.65" width="85.29" height="5.67" fill="#ffa600"/>
<rect x="387.43" y="269.17" width="85.29" height="5.67" fill="#ffa600"/>
<rect x="387.43" y="274.68" width="85.29" height="5.67" fill="#ffa600"/>
</g>
<rect x="36.20" y="250.50" width="2.00" height="29.40" fill="#4169e8"/>
<rect x="36.20" y="245.00" width="1.60" height="5.50" fill="#10b4f8"/>
<rect x="121.00" y="48.10" width="1.70" height="101.60" fill="#ffffff"/>
<rect x="121.00" y="180.50" width="1.70" height="99.40" fill="#ffffff"/>
<rect x="386.00" y="50.20" width="1.00" height="100.20" fill="#20305a"/>
<rect x="387.00" y="50.20" width="1.00" height="100.20" fill="#f4f0ff"/>
<rect x="386.90" y="180.90" width="1.30" height="82.10" fill="#fff8e8"/>
<rect x="386.90" y="263.00" width="1.10" height="17.20" fill="#503010"/>
<rect x="36.20" y="48.60" width="170.70" height="101.10" fill="none" stroke="#6a6a80" stroke-width="0.6"/>
<rect x="36.20" y="181.00" width="171.30" height="98.90" fill="none" stroke="#6a6a80" stroke-width="0.6"/>
<rect x="302.00" y="50.20" width="170.60" height="100.20" fill="none" stroke="#6a6a80" stroke-width="0.6"/>
<rect x="302.00" y="180.90" width="170.60" height="99.30" fill="none" stroke="#6a6a80" stroke-width="0.6"/>
<clipPath id="ca"><rect x="36.2" y="46.1" width="170.7" height="103.6"/></clipPath><g clip-path="url(#ca)">
<path d="M46.78 52.50L40.88 52.50" stroke="#000" stroke-width="0.7" fill="none"/>
<path d="M36.28 52.50L40.88 51.05L40.88 53.95Z" fill="#000"/>
<path d="M57.45 52.50L51.55 52.50" stroke="#000" stroke-width="0.7" fill="none"/>
<path d="M46.95 52.50L51.55 51.05L51.55 53.95Z" fill="#000"/>
<path d="M68.12 52.50L62.22 52.50" stroke="#000" stroke-width="0.7" fill="none"/>
<path d="M57.62 52.50L62.22 51.05L62.22 53.95Z" fill="#000"/>
<path d="M78.79 52.50L72.89 52.50" stroke="#000" stroke-width="0.7" fill="none"/>
<path d="M68.29 52.50L72.89 51.05L72.89 53.95Z" fill="#000"/>
<path d="M89.46 52.50L83.56 52.50" stroke="#000" stroke-width="0.7" fill="none"/>
<path d="M78.96 52.50L83.56 51.05L83.56 53.95Z" fill="#000"/>
<path d="M100.13 52.50L94.23 52.50" stroke="#000" stroke-width="0.7" fill="none"/>
<path d="M89.63 52.50L94.23 51.05L94.23 53.95Z" fill="#000"/>
<path d="M110.37 55.29L104.70 52.01" stroke="#000" stroke-width="0.7" fill="none"/>
<path d="M100.72 49.71L105.43 50.76L103.98 53.27Z" fill="#000"/>
<path d="M120.25 56.54L115.43 51.72" stroke="#000" stroke-width="0.7" fill="none"/>
<path d="M112.18 48.46L116.46 50.69L114.41 52.74Z" fill="#000"/>
<path d="M130.92 56.54L126.10 51.72" stroke="#000" stroke-width="0.7" fill="none"/>
<path d="M122.85 48.46L127.13 50.69L125.07 52.74Z" fill="#000"/>
<path d="M132.27 52.96L138.26 52.44" stroke="#000" stroke-width="0.7" fill="none"/>
<path d="M142.84 52.04L138.38 53.88L138.13 50.99Z" fill="#000"/>
<path d="M142.97 52.50L148.87 52.50" stroke="#000" stroke-width="0.7" fill="none"/>
<path d="M153.47 52.50L148.87 53.95L148.87 51.05Z" fill="#000"/>
<path d="M153.64 52.50L159.54 52.50" stroke="#000" stroke-width="0.7" fill="none"/>
<path d="M164.14 52.50L159.54 53.95L159.54 51.05Z" fill="#000"/>
<path d="M164.31 52.50L170.21 52.50" stroke="#000" stroke-width="0.7" fill="none"/>
<path d="M174.81 52.50L170.21 53.95L170.21 51.05Z" fill="#000"/>
<path d="M174.98 52.50L180.88 52.50" stroke="#000" stroke-width="0.7" fill="none"/>
<path d="M185.48 52.50L180.88 53.95L180.88 51.05Z" fill="#000"/>
<path d="M185.65 52.50L191.55 52.50" stroke="#000" stroke-width="0.7" fill="none"/>
<path d="M196.15 52.50L191.55 53.95L191.55 51.05Z" fill="#000"/>
<path d="M196.32 52.50L202.22 52.50" stroke="#000" stroke-width="0.7" fill="none"/>
<path d="M206.82 52.50L202.22 53.95L202.22 51.05Z" fill="#000"/>
<path d="M46.78 63.50L40.88 63.50" stroke="#000" stroke-width="0.7" fill="none"/>
<path d="M36.28 63.50L40.88 62.05L40.88 64.95Z" fill="#000"/>
<path d="M57.45 63.50L51.55 63.50" stroke="#000" stroke-width="0.7" fill="none"/>
<path d="M46.95 63.50L51.55 62.05L51.55 64.95Z" fill="#000"/>
<path d="M68.12 63.50L62.22 63.50" stroke="#000" stroke-width="0.7" fill="none"/>
<path d="M57.62 63.50L62.22 62.05L62.22 64.95Z" fill="#000"/>
<path d="M78.83 64.24L72.81 63.40" stroke="#000" stroke-width="0.7" fill="none"/>
<path d="M68.25 62.76L73.01 61.96L72.61 64.83Z" fill="#000"/>
<path d="M89.04 66.29L83.37 63.01" stroke="#000" stroke-width="0.7" fill="none"/>
<path d="M79.38 60.71L84.09 61.76L82.64 64.27Z" fill="#000"/>
<path d="M99.48 66.73L94.04 62.91" stroke="#000" stroke-width="0.7" fill="none"/>
<path d="M90.27 60.27L94.87 61.73L93.21 64.10Z" fill="#000"/>
<path d="M109.89 67.14L104.73 62.81" stroke="#000" stroke-width="0.7" fill="none"/>
<path d="M101.21 59.86L105.66 61.70L103.80 63.92Z" fill="#000"/>
<path d="M121.04 66.29L115.37 63.01" stroke="#000" stroke-width="0.7" fill="none"/>
<path d="M111.39 60.71L116.10 61.76L114.65 64.27Z" fill="#000"/>
<path d="M131.71 66.29L126.04 63.01" stroke="#000" stroke-width="0.7" fill="none"/>
<path d="M122.06 60.71L126.77 61.76L125.32 64.27Z" fill="#000"/>
<path d="M142.56 65.83L136.72 63.11" stroke="#000" stroke-width="0.7" fill="none"/>
<path d="M132.55 61.17L137.33 61.80L136.10 64.42Z" fill="#000"/>
<path d="M153.05 66.29L147.38 63.01" stroke="#000" stroke-width="0.7" fill="none"/>
<path d="M143.39 60.71L148.10 61.76L146.65 64.27Z" fill="#000"/>
<path d="M155.82 68.42L159.53 62.48" stroke="#000" stroke-width="0.7" fill="none"/>
<path d="M161.96 58.58L160.76 63.25L158.30 61.71Z" fill="#000"/>
<path d="M164.27 64.24L170.29 63.40" stroke="#000" stroke-width="0.7" fill="none"/>
<path d="M174.85 62.76L170.49 64.83L170.09 61.96Z" fill="#000"/>
<path d="M174.98 63.50L180.88 63.50" stroke="#000" stroke-width="0.7" fill="none"/>
<path d="M185.48 63.50L180.88 64.95L180.88 62.05Z" fill="#000"/>
<path d="M185.65 63.50L191.55 63.50" stroke="#000" stroke-width="0.7" fill="none"/>
<path d="M196.15 63.50L191.55 64.95L191.55 62.05Z" fill="#000"/>
<path d="M196.32 63.50L202.22 63.50" stroke="#000" stroke-width="0.7" fill="none"/>
<path d="M206.82 63.50L202.22 64.95L202.22 62.05Z" fill="#000"/>
<path d="M46.78 74.50L40.88 74.50" stroke="#000" stroke-width="0.7" fill="none"/>
<path d="M36.28 74.50L40.88 73.05L40.88 75.95Z" fill="#000"/>
<path d="M57.45 74.50L51.55 74.50" stroke="#000" stroke-width="0.7" fill="none"/>
<path d="M46.95 74.50L51.55 73.05L51.55 75.95Z" fill="#000"/>
<path d="M68.12 74.50L62.22 74.50" stroke="#000" stroke-width="0.7" fill="none"/>
<path d="M57.62 74.50L62.22 73.05L62.22 75.95Z" fill="#000"/>
<path d="M78.77 75.90L72.75 74.29" stroke="#000" stroke-width="0.7" fill="none"/>
<path d="M68.31 73.10L73.13 72.89L72.37 75.69Z" fill="#000"/>
<path d="M89.04 77.29L83.37 74.01" stroke="#000" stroke-width="0.7" fill="none"/>
<path d="M79.38 71.71L84.09 72.76L82.64 75.27Z" fill="#000"/>
<path d="M99.48 77.73L94.04 73.91" stroke="#000" stroke-width="0.7" fill="none"/>
<path d="M90.27 71.27L94.87 72.73L93.21 75.10Z" fill="#000"/>
<path d="M110.15 77.73L104.71 73.91" stroke="#000" stroke-width="0.7" fill="none"/>
<path d="M100.94 71.27L105.54 72.73L103.88 75.10Z" fill="#000"/>
<path d="M121.04 77.29L115.37 74.01" stroke="#000" stroke-width="0.7" fill="none"/>
<path d="M111.39 71.71L116.10 72.76L114.65 75.27Z" fill="#000"/>
<path d="M131.71 77.29L126.04 74.01" stroke="#000" stroke-width="0.7" fill="none"/>
<path d="M122.06 71.71L126.77 72.76L125.32 75.27Z" fill="#000"/>
<path d="M142.38 77.29L136.71 74.01" stroke="#000" stroke-width="0.7" fill="none"/>
<path d="M132.73 71.71L137.43 72.76L135.98 75.27Z" fill="#000"/>
<path d="M153.13 77.11L147.38 74.05" stroke="#000" stroke-width="0.7" fill="none"/>
<path d="M143.32 71.89L148.06 72.77L146.70 75.33Z" fill="#000"/>
<path d="M163.72 77.29L158.05 74.01" stroke="#000" stroke-width="0.7" fill="none"/>
<path d="M154.06 71.71L158.77 72.76L157.32 75.27Z" fill="#000"/>
<path d="M171.37 80.08L169.17 73.29" stroke="#000" stroke-width="0.7" fill="none"/>
<path d="M167.75 68.92L170.55 72.85L167.79 73.74Z" fill="#000"/>
<path d="M174.98 74.50L180.88 74.50" stroke="#000" stroke-width="0.7" fill="none"/>
<path d="M185.48 74.50L180.88 75.95L180.88 73.05Z" fill="#000"/>
<path d="M185.65 74.50L191.55 74.50" stroke="#000" stroke-width="0.7" fill="none"/>
<path d="M196.15 74.50L191.55 75.95L191.55 73.05Z" fill="#000"/>
<path d="M196.32 74.50L202.22 74.50" stroke="#000" stroke-width="0.7" fill="none"/>
<path d="M206.82 74.50L202.22 75.95L202.22 73.05Z" fill="#000"/>
<path d="M46.78 84.50L40.88 84.50" stroke="#000" stroke-width="0.7" fill="none"/>
<path d="M36.28 84.50L40.88 83.05L40.88 85.95Z" fill="#000"/>
<path d="M57.45 84.50L51.55 84.50" stroke="#000" stroke-width="0.7" fill="none"/>
<path d="M46.95 84.50L51.55 83.05L51.55 85.95Z" fill="#000"/>
<path d="M68.12 84.50L62.22 84.50" stroke="#000" stroke-width="0.7" fill="none"/>
<path d="M57.62 84.50L62.22 83.05L62.22 85.95Z" fill="#000"/>
<path d="M78.77 85.90L72.75 84.29" stroke="#000" stroke-width="0.7" fill="none"/>
<path d="M68.31 83.10L73.13 82.89L72.37 85.69Z" fill="#000"/>
<path d="M89.04 87.29L83.37 84.01" stroke="#000" stroke-width="0.7" fill="none"/>
<path d="M79.38 81.71L84.09 82.76L82.64 85.27Z" fill="#000"/>
<path d="M99.62 87.46L94.03 83.97" stroke="#000" stroke-width="0.7" fill="none"/>
<path d="M90.13 81.54L94.80 82.74L93.27 85.20Z" fill="#000"/>
<path d="M110.29 87.46L104.70 83.97" stroke="#000" stroke-width="0.7" fill="none"/>
<path d="M100.80 81.54L105.47 82.74L103.94 85.20Z" fill="#000"/>
<path d="M121.04 87.29L115.37 84.01" stroke="#000" stroke-width="0.7" fill="none"/>
<path d="M111.39 81.71L116.10 82.76L114.65 85.27Z" fill="#000"/>
<path d="M131.49 87.73L126.05 83.91" stroke="#000" stroke-width="0.7" fill="none"/>
<path d="M122.28 81.27L126.88 82.73L125.21 85.10Z" fill="#000"/>
<path d="M142.38 87.29L136.71 84.01" stroke="#000" stroke-width="0.7" fill="none"/>
<path d="M132.73 81.71L137.43 82.76L135.98 85.27Z" fill="#000"/>
<path d="M153.13 87.11L147.38 84.05" stroke="#000" stroke-width="0.7" fill="none"/>
<path d="M143.32 81.89L148.06 82.77L146.70 85.33Z" fill="#000"/>
<path d="M163.72 87.29L158.05 84.01" stroke="#000" stroke-width="0.7" fill="none"/>
<path d="M154.06 81.71L158.77 82.76L157.32 85.27Z" fill="#000"/>
<path d="M170.58 90.30L169.34 83.23" stroke="#000" stroke-width="0.7" fill="none"/>
<path d="M168.54 78.70L170.76 82.98L167.91 83.48Z" fill="#000"/>
<path d="M174.94 84.96L180.93 84.44" stroke="#000" stroke-width="0.7" fill="none"/>
<path d="M185.51 84.04L181.06 85.88L180.81 82.99Z" fill="#000"/>
<path d="M185.65 84.50L191.55 84.50" stroke="#000" stroke-width="0.7" fill="none"/>
<path d="M196.15 84.50L191.55 85.95L191.55 83.05Z" fill="#000"/>
<path d="M196.32 84.50L202.22 84.50" stroke="#000" stroke-width="0.7" fill="none"/>
<path d="M206.82 84.50L202.22 85.95L202.22 83.05Z" fill="#000"/>
<path d="M46.78 95.50L40.88 95.50" stroke="#000" stroke-width="0.7" fill="none"/>
<path d="M36.28 95.50L40.88 94.05L40.88 96.95Z" fill="#000"/>
<path d="M57.45 95.50L51.55 95.50" stroke="#000" stroke-width="0.7" fill="none"/>
<path d="M46.95 95.50L51.55 94.05L51.55 96.95Z" fill="#000"/>
<path d="M68.14 95.68L62.20 95.48" stroke="#000" stroke-width="0.7" fill="none"/>
<path d="M57.60 95.32L62.25 94.03L62.15 96.93Z" fill="#000"/>
<path d="M78.77 96.90L72.75 95.29" stroke="#000" stroke-width="0.7" fill="none"/>
<path d="M68.31 94.10L73.13 93.89L72.37 96.69Z" fill="#000"/>
<path d="M89.30 97.56L83.38 95.17" stroke="#000" stroke-width="0.7" fill="none"/>
<path d="M79.12 93.44L83.92 93.82L82.84 96.51Z" fill="#000"/>
<path d="M99.78 98.11L94.03 95.05" stroke="#000" stroke-width="0.7" fill="none"/>
<path d="M89.97 92.89L94.72 93.77L93.35 96.33Z" fill="#000"/>
<path d="M110.37 98.29L104.70 95.01" stroke="#000" stroke-width="0.7" fill="none"/>
<path d="M100.72 92.71L105.43 93.76L103.98 96.27Z" fill="#000"/>
<path d="M121.04 98.29L115.37 95.01" stroke="#000" stroke-width="0.7" fill="none"/>
<path d="M111.39 92.71L116.10 93.76L114.65 96.27Z" fill="#000"/>
<path d="M130.20 100.24L126.21 94.53" stroke="#000" stroke-width="0.7" fill="none"/>
<path d="M123.57 90.76L127.39 93.70L125.02 95.36Z" fill="#000"/>
<path d="M142.16 98.73L136.72 94.91" stroke="#000" stroke-width="0.7" fill="none"/>
<path d="M132.95 92.27L137.55 93.73L135.88 96.10Z" fill="#000"/>
<path d="M152.97 98.46L147.38 94.97" stroke="#000" stroke-width="0.7" fill="none"/>
<path d="M143.48 92.54L148.15 93.74L146.61 96.20Z" fill="#000"/>
<path d="M163.72 98.29L158.05 95.01" stroke="#000" stroke-width="0.7" fill="none"/>
<path d="M154.06 92.71L158.77 93.76L157.32 96.27Z" fill="#000"/>
<path d="M165.86 99.90L170.30 94.62" stroke="#000" stroke-width="0.7" fill="none"/>
<path d="M173.25 91.10L171.41 95.55L169.19 93.69Z" fill="#000"/>
<path d="M174.94 95.96L180.93 95.44" stroke="#000" stroke-width="0.7" fill="none"/>
<path d="M185.51 95.04L181.06 96.88L180.81 93.99Z" fill="#000"/>
<path d="M185.65 95.50L191.55 95.50" stroke="#000" stroke-width="0.7" fill="none"/>
<path d="M196.15 95.50L191.55 96.95L191.55 94.05Z" fill="#000"/>
<path d="M196.32 95.50L202.22 95.50" stroke="#000" stroke-width="0.7" fill="none"/>
<path d="M206.82 95.50L202.22 96.95L202.22 94.05Z" fill="#000"/>
<path d="M46.78 106.50L40.88 106.50" stroke="#000" stroke-width="0.7" fill="none"/>
<path d="M36.28 106.50L40.88 105.05L40.88 107.95Z" fill="#000"/>
<path d="M57.45 106.50L51.55 106.50" stroke="#000" stroke-width="0.7" fill="none"/>
<path d="M46.95 106.50L51.55 105.05L51.55 107.95Z" fill="#000"/>
<path d="M68.12 106.50L62.22 106.50" stroke="#000" stroke-width="0.7" fill="none"/>
<path d="M57.62 106.50L62.22 105.05L62.22 107.95Z" fill="#000"/>
<path d="M78.77 107.90L72.75 106.29" stroke="#000" stroke-width="0.7" fill="none"/>
<path d="M68.31 105.10L73.13 104.89L72.37 107.69Z" fill="#000"/>
<path d="M89.30 108.56L83.38 106.17" stroke="#000" stroke-width="0.7" fill="none"/>
<path d="M79.12 104.44L83.92 104.82L82.84 107.51Z" fill="#000"/>
<path d="M99.78 109.11L94.03 106.05" stroke="#000" stroke-width="0.7" fill="none"/>
<path d="M89.97 103.89L94.72 104.77L93.35 107.33Z" fill="#000"/>
<path d="M110.29 109.46L104.70 105.97" stroke="#000" stroke-width="0.7" fill="none"/>
<path d="M100.80 103.54L105.47 104.74L103.94 107.20Z" fill="#000"/>
<path d="M120.82 109.73L115.38 105.91" stroke="#000" stroke-width="0.7" fill="none"/>
<path d="M111.61 103.27L116.21 104.73L114.55 107.10Z" fill="#000"/>
<path d="M129.62 111.64L126.31 105.42" stroke="#000" stroke-width="0.7" fill="none"/>
<path d="M124.15 101.36L127.59 104.74L125.03 106.10Z" fill="#000"/>
<path d="M140.79 111.30L136.89 105.51" stroke="#000" stroke-width="0.7" fill="none"/>
<path d="M134.32 101.70L138.09 104.70L135.69 106.33Z" fill="#000"/>
<path d="M152.26 110.54L147.44 105.72" stroke="#000" stroke-width="0.7" fill="none"/>
<path d="M144.18 102.46L148.46 104.69L146.41 106.74Z" fill="#000"/>
<path d="M158.38 112.38L159.00 105.21" stroke="#000" stroke-width="0.7" fill="none"/>
<path d="M159.40 100.62L160.45 105.33L157.56 105.08Z" fill="#000"/>
<path d="M164.42 108.37L170.38 106.20" stroke="#000" stroke-width="0.7" fill="none"/>
<path d="M174.70 104.63L170.88 107.56L169.88 104.84Z" fill="#000"/>
<path d="M174.94 106.96L180.93 106.44" stroke="#000" stroke-width="0.7" fill="none"/>
<path d="M185.51 106.04L181.06 107.88L180.81 104.99Z" fill="#000"/>
<path d="M185.65 106.50L191.55 106.50" stroke="#000" stroke-width="0.7" fill="none"/>
<path d="M196.15 106.50L191.55 107.95L191.55 105.05Z" fill="#000"/>
<path d="M196.32 106.50L202.22 106.50" stroke="#000" stroke-width="0.7" fill="none"/>
<path d="M206.82 106.50L202.22 107.95L202.22 105.05Z" fill="#000"/>
<path d="M46.78 117.50L40.88 117.50" stroke="#000" stroke-width="0.7" fill="none"/>
<path d="M36.28 117.50L40.88 116.05L40.88 118.95Z" fill="#000"/>
<path d="M57.45 117.50L51.55 117.50" stroke="#000" stroke-width="0.7" fill="none"/>
<path d="M46.95 117.50L51.55 116.05L51.55 118.95Z" fill="#000"/>
<path d="M68.12 117.50L62.22 117.50" stroke="#000" stroke-width="0.7" fill="none"/>
<path d="M57.62 117.50L62.22 116.05L62.22 118.95Z" fill="#000"/>
<path d="M78.83 118.24L72.81 117.40" stroke="#000" stroke-width="0.7" fill="none"/>
<path d="M68.25 116.76L73.01 115.96L72.61 118.83Z" fill="#000"/>
<path d="M89.35 119.37L83.39 117.20" stroke="#000" stroke-width="0.7" fill="none"/>
<path d="M79.07 115.63L83.89 115.84L82.89 118.56Z" fill="#000"/>
<path d="M99.82 120.02L94.04 117.07" stroke="#000" stroke-width="0.7" fill="none"/>
<path d="M89.94 114.98L94.69 115.78L93.38 118.36Z" fill="#000"/>
<path d="M110.29 120.46L104.70 116.97" stroke="#000" stroke-width="0.7" fill="none"/>
<path d="M100.80 114.54L105.47 115.74L103.94 118.20Z" fill="#000"/>
<path d="M120.82 120.73L115.38 116.91" stroke="#000" stroke-width="0.7" fill="none"/>
<path d="M111.61 114.27L116.21 115.73L114.55 118.10Z" fill="#000"/>
<path d="M130.36 122.11L126.18 116.57" stroke="#000" stroke-width="0.7" fill="none"/>
<path d="M123.41 112.89L127.34 115.69L125.02 117.44Z" fill="#000"/>
<path d="M140.46 122.53L136.95 116.45" stroke="#000" stroke-width="0.7" fill="none"/>
<path d="M134.65 112.47L138.20 115.72L135.69 117.17Z" fill="#000"/>
<path d="M148.74 123.38L148.11 116.21" stroke="#000" stroke-width="0.7" fill="none"/>
<path d="M147.71 111.62L149.55 116.08L146.66 116.33Z" fill="#000"/>
<path d="M154.15 120.46L159.73 116.97" stroke="#000" stroke-width="0.7" fill="none"/>
<path d="M163.63 114.54L160.50 118.20L158.97 115.74Z" fill="#000"/>
<path d="M164.28 118.43L170.31 117.37" stroke="#000" stroke-width="0.7" fill="none"/>
<path d="M174.84 116.57L170.56 118.80L170.06 115.94Z" fill="#000"/>
<path d="M174.95 117.78L180.91 117.46" stroke="#000" stroke-width="0.7" fill="none"/>
<path d="M185.50 117.22L180.99 118.91L180.84 116.02Z" fill="#000"/>
<path d="M185.65 117.50L191.55 117.50" stroke="#000" stroke-width="0.7" fill="none"/>
<path d="M196.15 117.50L191.55 118.95L191.55 116.05Z" fill="#000"/>
<path d="M196.32 117.50L202.22 117.50" stroke="#000" stroke-width="0.7" fill="none"/>
<path d="M206.82 117.50L202.22 118.95L202.22 116.05Z" fill="#000"/>
<path d="M46.78 128.50L40.88 128.50" stroke="#000" stroke-width="0.7" fill="none"/>
<path d="M36.28 128.50L40.88 127.05L40.88 129.95Z" fill="#000"/>
<path d="M57.45 128.50L51.55 128.50" stroke="#000" stroke-width="0.7" fill="none"/>
<path d="M46.95 128.50L51.55 127.05L51.55 129.95Z" fill="#000"/>
<path d="M68.12 128.50L62.22 128.50" stroke="#000" stroke-width="0.7" fill="none"/>
<path d="M57.62 128.50L62.22 127.05L62.22 129.95Z" fill="#000"/>
<path d="M78.82 128.87L72.85 128.45" stroke="#000" stroke-width="0.7" fill="none"/>
<path d="M68.26 128.13L72.95 127.01L72.75 129.90Z" fill="#000"/>
<path d="M89.44 129.90L83.42 128.29" stroke="#000" stroke-width="0.7" fill="none"/>
<path d="M78.98 127.10L83.79 126.89L83.04 129.69Z" fill="#000"/>
<path d="M99.78 131.11L94.03 128.05" stroke="#000" stroke-width="0.7" fill="none"/>
<path d="M89.97 125.89L94.72 126.77L93.35 129.33Z" fill="#000"/>
<path d="M110.15 131.73L104.71 127.91" stroke="#000" stroke-width="0.7" fill="none"/>
<path d="M100.94 125.27L105.54 126.73L103.88 129.10Z" fill="#000"/>
<path d="M120.44 132.30L115.41 127.77" stroke="#000" stroke-width="0.7" fill="none"/>
<path d="M111.99 124.70L116.38 126.70L114.44 128.85Z" fill="#000"/>
<path d="M130.20 133.24L126.21 127.53" stroke="#000" stroke-width="0.7" fill="none"/>
<path d="M123.57 123.76L127.39 126.70L125.02 128.36Z" fill="#000"/>
<path d="M140.63 133.42L136.92 127.48" stroke="#000" stroke-width="0.7" fill="none"/>
<path d="M134.48 123.58L138.15 126.71L135.69 128.25Z" fill="#000"/>
<path d="M148.53 134.39L148.15 127.20" stroke="#000" stroke-width="0.7" fill="none"/>
<path d="M147.91 122.61L149.60 127.13L146.71 127.28Z" fill="#000"/>
<path d="M158.68 134.40L158.94 127.20" stroke="#000" stroke-width="0.7" fill="none"/>
<path d="M159.10 122.60L160.39 127.25L157.49 127.15Z" fill="#000"/>
<path d="M164.33 129.90L170.35 128.29" stroke="#000" stroke-width="0.7" fill="none"/>
<path d="M174.79 127.10L170.73 129.69L169.97 126.89Z" fill="#000"/>
<path d="M174.98 128.50L180.88 128.50" stroke="#000" stroke-width="0.7" fill="none"/>
<path d="M185.48 128.50L180.88 129.95L180.88 127.05Z" fill="#000"/>
<path d="M185.65 128.50L191.55 128.50" stroke="#000" stroke-width="0.7" fill="none"/>
<path d="M196.15 128.50L191.55 129.95L191.55 127.05Z" fill="#000"/>
<path d="M196.32 128.50L202.22 128.50" stroke="#000" stroke-width="0.7" fill="none"/>
<path d="M206.82 128.50L202.22 129.95L202.22 127.05Z" fill="#000"/>
<path d="M46.78 139.50L40.88 139.50" stroke="#000" stroke-width="0.7" fill="none"/>
<path d="M36.28 139.50L40.88 138.05L40.88 140.95Z" fill="#000"/>
<path d="M57.45 139.50L51.55 139.50" stroke="#000" stroke-width="0.7" fill="none"/>
<path d="M46.95 139.50L51.55 138.05L51.55 140.95Z" fill="#000"/>
<path d="M68.12 139.50L62.22 139.50" stroke="#000" stroke-width="0.7" fill="none"/>
<path d="M57.62 139.50L62.22 138.05L62.22 140.95Z" fill="#000"/>
<path d="M78.81 139.68L72.87 139.48" stroke="#000" stroke-width="0.7" fill="none"/>
<path d="M68.27 139.32L72.92 138.03L72.82 140.93Z" fill="#000"/>
<path d="M89.49 140.43L83.46 139.37" stroke="#000" stroke-width="0.7" fill="none"/>
<path d="M78.93 138.57L83.71 137.94L83.21 140.80Z" fill="#000"/>
<path d="M99.89 141.83L94.04 139.11" stroke="#000" stroke-width="0.7" fill="none"/>
<path d="M89.87 137.17L94.65 137.80L93.43 140.42Z" fill="#000"/>
<path d="M110.00 142.98L104.72 138.85" stroke="#000" stroke-width="0.7" fill="none"/>
<path d="M101.09 136.02L105.61 137.71L103.83 140.00Z" fill="#000"/>
<path d="M119.91 143.90L115.48 138.62" stroke="#000" stroke-width="0.7" fill="none"/>
<path d="M112.52 135.10L116.59 137.69L114.37 139.55Z" fill="#000"/>
<path d="M128.60 145.12L126.51 138.28" stroke="#000" stroke-width="0.7" fill="none"/>
<path d="M125.17 133.88L127.90 137.86L125.13 138.71Z" fill="#000"/>
<path d="M141.59 143.54L136.77 138.72" stroke="#000" stroke-width="0.7" fill="none"/>
<path d="M133.52 135.46L137.79 137.69L135.74 139.74Z" fill="#000"/>
<path d="M144.53 143.90L148.96 138.62" stroke="#000" stroke-width="0.7" fill="none"/>
<path d="M151.92 135.10L150.07 139.55L147.85 137.69Z" fill="#000"/>
<path d="M158.68 145.40L158.94 138.20" stroke="#000" stroke-width="0.7" fill="none"/>
<path d="M159.10 133.60L160.39 138.25L157.49 138.15Z" fill="#000"/>
<path d="M164.28 140.43L170.31 139.37" stroke="#000" stroke-width="0.7" fill="none"/>
<path d="M174.84 138.57L170.56 140.80L170.06 137.94Z" fill="#000"/>
<path d="M174.98 139.50L180.88 139.50" stroke="#000" stroke-width="0.7" fill="none"/>
<path d="M185.48 139.50L180.88 140.95L180.88 138.05Z" fill="#000"/>
<path d="M185.65 139.50L191.55 139.50" stroke="#000" stroke-width="0.7" fill="none"/>
<path d="M196.15 139.50L191.55 140.95L191.55 138.05Z" fill="#000"/>
<path d="M196.32 139.50L202.22 139.50" stroke="#000" stroke-width="0.7" fill="none"/>
<path d="M206.82 139.50L202.22 140.95L202.22 138.05Z" fill="#000"/>
</g>
<clipPath id="cc"><rect x="36.2" y="178.5" width="171.3" height="101.39999999999998"/></clipPath><g clip-path="url(#cc)">
<path d="M46.80 183.50L40.90 183.50" stroke="#000" stroke-width="0.7" fill="none"/>
<path d="M36.30 183.50L40.90 182.05L40.90 184.95Z" fill="#000"/>
<path d="M57.51 183.50L51.61 183.50" stroke="#000" stroke-width="0.7" fill="none"/>
<path d="M47.01 183.50L51.61 182.05L51.61 184.95Z" fill="#000"/>
<path d="M68.22 183.50L62.32 183.50" stroke="#000" stroke-width="0.7" fill="none"/>
<path d="M57.72 183.50L62.32 182.05L62.32 184.95Z" fill="#000"/>
<path d="M78.92 183.50L73.02 183.50" stroke="#000" stroke-width="0.7" fill="none"/>
<path d="M68.42 183.50L73.02 182.05L73.02 184.95Z" fill="#000"/>
<path d="M89.65 183.68L83.71 183.48" stroke="#000" stroke-width="0.7" fill="none"/>
<path d="M79.11 183.32L83.76 182.03L83.66 184.93Z" fill="#000"/>
<path d="M100.37 184.43L94.33 183.37" stroke="#000" stroke-width="0.7" fill="none"/>
<path d="M89.80 182.57L94.58 181.94L94.08 184.80Z" fill="#000"/>
<path d="M110.13 187.14L104.97 182.81" stroke="#000" stroke-width="0.7" fill="none"/>
<path d="M101.45 179.86L105.90 181.70L104.04 183.92Z" fill="#000"/>
<path d="M120.53 187.54L115.71 182.72" stroke="#000" stroke-width="0.7" fill="none"/>
<path d="M112.46 179.46L116.74 181.69L114.69 183.74Z" fill="#000"/>
<path d="M121.92 183.96L127.91 183.44" stroke="#000" stroke-width="0.7" fill="none"/>
<path d="M132.49 183.04L128.03 184.88L127.78 181.99Z" fill="#000"/>
<path d="M132.66 183.50L138.56 183.50" stroke="#000" stroke-width="0.7" fill="none"/>
<path d="M143.16 183.50L138.56 184.95L138.56 182.05Z" fill="#000"/>
<path d="M143.37 183.50L149.27 183.50" stroke="#000" stroke-width="0.7" fill="none"/>
<path d="M153.87 183.50L149.27 184.95L149.27 182.05Z" fill="#000"/>
<path d="M154.07 183.50L159.97 183.50" stroke="#000" stroke-width="0.7" fill="none"/>
<path d="M164.57 183.50L159.97 184.95L159.97 182.05Z" fill="#000"/>
<path d="M164.78 183.50L170.68 183.50" stroke="#000" stroke-width="0.7" fill="none"/>
<path d="M175.28 183.50L170.68 184.95L170.68 182.05Z" fill="#000"/>
<path d="M175.48 183.50L181.38 183.50" stroke="#000" stroke-width="0.7" fill="none"/>
<path d="M185.98 183.50L181.38 184.95L181.38 182.05Z" fill="#000"/>
<path d="M186.19 183.50L192.09 183.50" stroke="#000" stroke-width="0.7" fill="none"/>
<path d="M196.69 183.50L192.09 184.95L192.09 182.05Z" fill="#000"/>
<path d="M196.90 183.50L202.80 183.50" stroke="#000" stroke-width="0.7" fill="none"/>
<path d="M207.40 183.50L202.80 184.95L202.80 182.05Z" fill="#000"/>
<path d="M46.80 194.50L40.90 194.50" stroke="#000" stroke-width="0.7" fill="none"/>
<path d="M36.30 194.50L40.90 193.05L40.90 195.95Z" fill="#000"/>
<path d="M57.51 194.50L51.61 194.50" stroke="#000" stroke-width="0.7" fill="none"/>
<path d="M47.01 194.50L51.61 193.05L51.61 195.95Z" fill="#000"/>
<path d="M68.22 194.50L62.32 194.50" stroke="#000" stroke-width="0.7" fill="none"/>
<path d="M57.72 194.50L62.32 193.05L62.32 195.95Z" fill="#000"/>
<path d="M78.92 194.50L73.02 194.50" stroke="#000" stroke-width="0.7" fill="none"/>
<path d="M68.42 194.50L73.02 193.05L73.02 195.95Z" fill="#000"/>
<path d="M89.65 194.68L83.71 194.48" stroke="#000" stroke-width="0.7" fill="none"/>
<path d="M79.11 194.32L83.76 193.03L83.66 195.93Z" fill="#000"/>
<path d="M100.37 194.96L94.38 194.44" stroke="#000" stroke-width="0.7" fill="none"/>
<path d="M89.80 194.04L94.51 192.99L94.25 195.88Z" fill="#000"/>
<path d="M111.07 195.43L105.04 194.37" stroke="#000" stroke-width="0.7" fill="none"/>
<path d="M100.51 193.57L105.29 192.94L104.79 195.80Z" fill="#000"/>
<path d="M121.79 195.24L115.76 194.40" stroke="#000" stroke-width="0.7" fill="none"/>
<path d="M111.21 193.76L115.97 192.96L115.56 195.83Z" fill="#000"/>
<path d="M122.30 191.89L128.05 194.95" stroke="#000" stroke-width="0.7" fill="none"/>
<path d="M132.11 197.11L127.37 196.23L128.73 193.67Z" fill="#000"/>
<path d="M132.66 194.50L138.56 194.50" stroke="#000" stroke-width="0.7" fill="none"/>
<path d="M143.16 194.50L138.56 195.95L138.56 193.05Z" fill="#000"/>
<path d="M143.37 194.50L149.27 194.50" stroke="#000" stroke-width="0.7" fill="none"/>
<path d="M153.87 194.50L149.27 195.95L149.27 193.05Z" fill="#000"/>
<path d="M154.07 194.50L159.97 194.50" stroke="#000" stroke-width="0.7" fill="none"/>
<path d="M164.57 194.50L159.97 195.95L159.97 193.05Z" fill="#000"/>
<path d="M164.78 194.50L170.68 194.50" stroke="#000" stroke-width="0.7" fill="none"/>
<path d="M175.28 194.50L170.68 195.95L170.68 193.05Z" fill="#000"/>
<path d="M175.48 194.50L181.38 194.50" stroke="#000" stroke-width="0.7" fill="none"/>
<path d="M185.98 194.50L181.38 195.95L181.38 193.05Z" fill="#000"/>
<path d="M186.19 194.50L192.09 194.50" stroke="#000" stroke-width="0.7" fill="none"/>
<path d="M196.69 194.50L192.09 195.95L192.09 193.05Z" fill="#000"/>
<path d="M196.90 194.50L202.80 194.50" stroke="#000" stroke-width="0.7" fill="none"/>
<path d="M207.40 194.50L202.80 195.95L202.80 193.05Z" fill="#000"/>
<path d="M46.80 205.50L40.90 205.50" stroke="#000" stroke-width="0.7" fill="none"/>
<path d="M36.30 205.50L40.90 204.05L40.90 206.95Z" fill="#000"/>
<path d="M57.51 205.50L51.61 205.50" stroke="#000" stroke-width="0.7" fill="none"/>
<path d="M47.01 205.50L51.61 204.05L51.61 206.95Z" fill="#000"/>
<path d="M68.22 205.50L62.32 205.50" stroke="#000" stroke-width="0.7" fill="none"/>
<path d="M57.72 205.50L62.32 204.05L62.32 206.95Z" fill="#000"/>
<path d="M78.92 205.50L73.02 205.50" stroke="#000" stroke-width="0.7" fill="none"/>
<path d="M68.42 205.50L73.02 204.05L73.02 206.95Z" fill="#000"/>
<path d="M89.63 205.50L83.73 205.50" stroke="#000" stroke-width="0.7" fill="none"/>
<path d="M79.13 205.50L83.73 204.05L83.73 206.95Z" fill="#000"/>
<path d="M100.37 205.87L94.39 205.45" stroke="#000" stroke-width="0.7" fill="none"/>
<path d="M89.80 205.13L94.49 204.01L94.29 206.90Z" fill="#000"/>
<path d="M111.08 206.24L105.06 205.40" stroke="#000" stroke-width="0.7" fill="none"/>
<path d="M100.50 204.76L105.26 203.96L104.86 206.83Z" fill="#000"/>
<path d="M121.78 206.43L115.75 205.37" stroke="#000" stroke-width="0.7" fill="none"/>
<path d="M111.22 204.57L116.00 203.94L115.49 206.80Z" fill="#000"/>
<path d="M132.35 207.37L126.38 205.20" stroke="#000" stroke-width="0.7" fill="none"/>
<path d="M122.06 203.63L126.88 203.84L125.89 206.56Z" fill="#000"/>
<path d="M142.92 207.83L137.07 205.11" stroke="#000" stroke-width="0.7" fill="none"/>
<path d="M132.90 203.17L137.68 203.80L136.46 206.42Z" fill="#000"/>
<path d="M143.37 205.50L149.27 205.50" stroke="#000" stroke-width="0.7" fill="none"/>
<path d="M153.87 205.50L149.27 206.95L149.27 204.05Z" fill="#000"/>
<path d="M154.07 205.50L159.97 205.50" stroke="#000" stroke-width="0.7" fill="none"/>
<path d="M164.57 205.50L159.97 206.95L159.97 204.05Z" fill="#000"/>
<path d="M164.78 205.50L170.68 205.50" stroke="#000" stroke-width="0.7" fill="none"/>
<path d="M175.28 205.50L170.68 206.95L170.68 204.05Z" fill="#000"/>
<path d="M175.48 205.50L181.38 205.50" stroke="#000" stroke-width="0.7" fill="none"/>
<path d="M185.98 205.50L181.38 206.95L181.38 204.05Z" fill="#000"/>
<path d="M186.19 205.50L192.09 205.50" stroke="#000" stroke-width="0.7" fill="none"/>
<path d="M196.69 205.50L192.09 206.95L192.09 204.05Z" fill="#000"/>
<path d="M196.90 205.50L202.80 205.50" stroke="#000" stroke-width="0.7" fill="none"/>
<path d="M207.40 205.50L202.80 206.95L202.80 204.05Z" fill="#000"/>
<path d="M46.80 216.50L40.90 216.50" stroke="#000" stroke-width="0.7" fill="none"/>
<path d="M36.30 216.50L40.90 215.05L40.90 217.95Z" fill="#000"/>
<path d="M57.51 216.50L51.61 216.50" stroke="#000" stroke-width="0.7" fill="none"/>
<path d="M47.01 216.50L51.61 215.05L51.61 217.95Z" fill="#000"/>
<path d="M68.22 216.50L62.32 216.50" stroke="#000" stroke-width="0.7" fill="none"/>
<path d="M57.72 216.50L62.32 215.05L62.32 217.95Z" fill="#000"/>
<path d="M78.92 216.50L73.02 216.50" stroke="#000" stroke-width="0.7" fill="none"/>
<path d="M68.42 216.50L73.02 215.05L73.02 217.95Z" fill="#000"/>
<path d="M89.63 216.50L83.73 216.50" stroke="#000" stroke-width="0.7" fill="none"/>
<path d="M79.13 216.50L83.73 215.05L83.73 217.95Z" fill="#000"/>
<path d="M100.35 216.68L94.41 216.48" stroke="#000" stroke-width="0.7" fill="none"/>
<path d="M89.81 216.32L94.46 215.03L94.36 217.93Z" fill="#000"/>
<path d="M111.08 216.96L105.09 216.44" stroke="#000" stroke-width="0.7" fill="none"/>
<path d="M100.50 216.04L105.21 214.99L104.96 217.88Z" fill="#000"/>
<path d="M121.79 217.24L115.76 216.40" stroke="#000" stroke-width="0.7" fill="none"/>
<path d="M111.21 215.76L115.97 214.96L115.56 217.83Z" fill="#000"/>
<path d="M132.48 217.43L126.45 216.37" stroke="#000" stroke-width="0.7" fill="none"/>
<path d="M121.92 215.57L126.70 214.94L126.20 217.80Z" fill="#000"/>
<path d="M143.18 217.62L137.14 216.34" stroke="#000" stroke-width="0.7" fill="none"/>
<path d="M132.64 215.38L137.44 214.92L136.84 217.76Z" fill="#000"/>
<path d="M153.85 217.90L147.83 216.29" stroke="#000" stroke-width="0.7" fill="none"/>
<path d="M143.38 215.10L148.20 214.89L147.45 217.69Z" fill="#000"/>
<path d="M164.60 217.43L158.57 216.37" stroke="#000" stroke-width="0.7" fill="none"/>
<path d="M154.04 215.57L158.82 214.94L158.32 217.80Z" fill="#000"/>
<path d="M164.78 216.50L170.68 216.50" stroke="#000" stroke-width="0.7" fill="none"/>
<path d="M175.28 216.50L170.68 217.95L170.68 215.05Z" fill="#000"/>
<path d="M175.48 216.50L181.38 216.50" stroke="#000" stroke-width="0.7" fill="none"/>
<path d="M185.98 216.50L181.38 217.95L181.38 215.05Z" fill="#000"/>
<path d="M186.19 216.50L192.09 216.50" stroke="#000" stroke-width="0.7" fill="none"/>
<path d="M196.69 216.50L192.09 217.95L192.09 215.05Z" fill="#000"/>
<path d="M196.90 216.50L202.80 216.50" stroke="#000" stroke-width="0.7" fill="none"/>
<path d="M207.40 216.50L202.80 217.95L202.80 215.05Z" fill="#000"/>
<path d="M46.80 227.50L40.90 227.50" stroke="#000" stroke-width="0.7" fill="none"/>
<path d="M36.30 227.50L40.90 226.05L40.90 228.95Z" fill="#000"/>
<path d="M57.51 227.50L51.61 227.50" stroke="#000" stroke-width="0.7" fill="none"/>
<path d="M47.01 227.50L51.61 226.05L51.61 228.95Z" fill="#000"/>
<path d="M68.22 227.50L62.32 227.50" stroke="#000" stroke-width="0.7" fill="none"/>
<path d="M57.72 227.50L62.32 226.05L62.32 228.95Z" fill="#000"/>
<path d="M78.92 227.50L73.02 227.50" stroke="#000" stroke-width="0.7" fill="none"/>
<path d="M68.42 227.50L73.02 226.05L73.02 228.95Z" fill="#000"/>
<path d="M89.63 227.50L83.73 227.50" stroke="#000" stroke-width="0.7" fill="none"/>
<path d="M79.13 227.50L83.73 226.05L83.73 228.95Z" fill="#000"/>
<path d="M100.33 227.50L94.43 227.50" stroke="#000" stroke-width="0.7" fill="none"/>
<path d="M89.83 227.50L94.43 226.05L94.43 228.95Z" fill="#000"/>
<path d="M111.07 227.87L105.10 227.45" stroke="#000" stroke-width="0.7" fill="none"/>
<path d="M100.51 227.13L105.20 226.01L105.00 228.90Z" fill="#000"/>
<path d="M121.79 228.06L115.78 227.42" stroke="#000" stroke-width="0.7" fill="none"/>
<path d="M111.21 226.94L115.93 225.98L115.63 228.87Z" fill="#000"/>
<path d="M132.49 227.96L126.50 227.44" stroke="#000" stroke-width="0.7" fill="none"/>
<path d="M121.92 227.04L126.63 225.99L126.37 228.88Z" fill="#000"/>
<path d="M143.20 228.24L137.18 227.40" stroke="#000" stroke-width="0.7" fill="none"/>
<path d="M132.62 226.76L137.38 225.96L136.97 228.83Z" fill="#000"/>
<path d="M153.88 228.62L147.85 227.34" stroke="#000" stroke-width="0.7" fill="none"/>
<path d="M143.35 226.38L148.15 225.92L147.55 228.76Z" fill="#000"/>
<path d="M164.56 228.90L158.53 227.29" stroke="#000" stroke-width="0.7" fill="none"/>
<path d="M154.09 226.10L158.91 225.89L158.16 228.69Z" fill="#000"/>
<path d="M164.78 227.50L170.68 227.50" stroke="#000" stroke-width="0.7" fill="none"/>
<path d="M175.28 227.50L170.68 228.95L170.68 226.05Z" fill="#000"/>
<path d="M175.48 227.50L181.38 227.50" stroke="#000" stroke-width="0.7" fill="none"/>
<path d="M185.98 227.50L181.38 228.95L181.38 226.05Z" fill="#000"/>
<path d="M186.19 227.50L192.09 227.50" stroke="#000" stroke-width="0.7" fill="none"/>
<path d="M196.69 227.50L192.09 228.95L192.09 226.05Z" fill="#000"/>
<path d="M196.90 227.50L202.80 227.50" stroke="#000" stroke-width="0.7" fill="none"/>
<path d="M207.40 227.50L202.80 228.95L202.80 226.05Z" fill="#000"/>
<path d="M46.80 238.50L40.90 238.50" stroke="#000" stroke-width="0.7" fill="none"/>
<path d="M36.30 238.50L40.90 237.05L40.90 239.95Z" fill="#000"/>
<path d="M57.51 238.50L51.61 238.50" stroke="#000" stroke-width="0.7" fill="none"/>
<path d="M47.01 238.50L51.61 237.05L51.61 239.95Z" fill="#000"/>
<path d="M68.22 238.50L62.32 238.50" stroke="#000" stroke-width="0.7" fill="none"/>
<path d="M57.72 238.50L62.32 237.05L62.32 239.95Z" fill="#000"/>
<path d="M78.92 238.50L73.02 238.50" stroke="#000" stroke-width="0.7" fill="none"/>
<path d="M68.42 238.50L73.02 237.05L73.02 239.95Z" fill="#000"/>
<path d="M89.63 238.50L83.73 238.50" stroke="#000" stroke-width="0.7" fill="none"/>
<path d="M79.13 238.50L83.73 237.05L83.73 239.95Z" fill="#000"/>
<path d="M100.33 238.50L94.43 238.50" stroke="#000" stroke-width="0.7" fill="none"/>
<path d="M89.83 238.50L94.43 237.05L94.43 239.95Z" fill="#000"/>
<path d="M111.06 238.68L105.12 238.48" stroke="#000" stroke-width="0.7" fill="none"/>
<path d="M100.52 238.32L105.17 237.03L105.07 239.93Z" fill="#000"/>
<path d="M121.78 238.87L115.80 238.45" stroke="#000" stroke-width="0.7" fill="none"/>
<path d="M111.21 238.13L115.90 237.01L115.70 239.90Z" fill="#000"/>
<path d="M132.49 238.87L126.51 238.45" stroke="#000" stroke-width="0.7" fill="none"/>
<path d="M121.92 238.13L126.61 237.01L126.41 239.90Z" fill="#000"/>
<path d="M143.20 239.06L137.20 238.42" stroke="#000" stroke-width="0.7" fill="none"/>
<path d="M132.62 237.94L137.35 236.98L137.04 239.87Z" fill="#000"/>
<path d="M153.88 239.62L147.85 238.34" stroke="#000" stroke-width="0.7" fill="none"/>
<path d="M143.35 237.38L148.15 236.92L147.55 239.76Z" fill="#000"/>
<path d="M164.46 240.37L158.50 238.20" stroke="#000" stroke-width="0.7" fill="none"/>
<path d="M154.18 236.63L159.00 236.84L158.01 239.56Z" fill="#000"/>
<path d="M174.86 241.29L169.18 238.01" stroke="#000" stroke-width="0.7" fill="none"/>
<path d="M165.20 235.71L169.91 236.76L168.46 239.27Z" fill="#000"/>
<path d="M175.47 237.38L181.50 238.66" stroke="#000" stroke-width="0.7" fill="none"/>
<path d="M186.00 239.62L181.20 240.08L181.80 237.24Z" fill="#000"/>
<path d="M186.19 238.50L192.09 238.50" stroke="#000" stroke-width="0.7" fill="none"/>
<path d="M196.69 238.50L192.09 239.95L192.09 237.05Z" fill="#000"/>
<path d="M196.90 238.50L202.80 238.50" stroke="#000" stroke-width="0.7" fill="none"/>
<path d="M207.40 238.50L202.80 239.95L202.80 237.05Z" fill="#000"/>
<path d="M46.80 249.50L40.90 249.50" stroke="#000" stroke-width="0.7" fill="none"/>
<path d="M36.30 249.50L40.90 248.05L40.90 250.95Z" fill="#000"/>
<path d="M57.51 249.50L51.61 249.50" stroke="#000" stroke-width="0.7" fill="none"/>
<path d="M47.01 249.50L51.61 248.05L51.61 250.95Z" fill="#000"/>
<path d="M68.22 249.50L62.32 249.50" stroke="#000" stroke-width="0.7" fill="none"/>
<path d="M57.72 249.50L62.32 248.05L62.32 250.95Z" fill="#000"/>
<path d="M78.92 249.50L73.02 249.50" stroke="#000" stroke-width="0.7" fill="none"/>
<path d="M68.42 249.50L73.02 248.05L73.02 250.95Z" fill="#000"/>
<path d="M89.63 249.50L83.73 249.50" stroke="#000" stroke-width="0.7" fill="none"/>
<path d="M79.13 249.50L83.73 248.05L83.73 250.95Z" fill="#000"/>
<path d="M100.33 249.50L94.43 249.50" stroke="#000" stroke-width="0.7" fill="none"/>
<path d="M89.83 249.50L94.43 248.05L94.43 250.95Z" fill="#000"/>
<path d="M111.04 249.50L105.14 249.50" stroke="#000" stroke-width="0.7" fill="none"/>
<path d="M100.54 249.50L105.14 248.05L105.14 250.95Z" fill="#000"/>
<path d="M121.77 249.68L115.82 249.48" stroke="#000" stroke-width="0.7" fill="none"/>
<path d="M111.23 249.32L115.88 248.03L115.77 250.93Z" fill="#000"/>
<path d="M132.47 249.68L126.53 249.48" stroke="#000" stroke-width="0.7" fill="none"/>
<path d="M121.93 249.32L126.58 248.03L126.48 250.93Z" fill="#000"/>
<path d="M143.19 249.87L137.22 249.45" stroke="#000" stroke-width="0.7" fill="none"/>
<path d="M132.63 249.13L137.32 248.01L137.11 250.90Z" fill="#000"/>
<path d="M153.90 250.24L147.88 249.40" stroke="#000" stroke-width="0.7" fill="none"/>
<path d="M143.33 248.76L148.08 247.96L147.68 250.83Z" fill="#000"/>
<path d="M164.15 252.29L158.48 249.01" stroke="#000" stroke-width="0.7" fill="none"/>
<path d="M154.49 246.71L159.20 247.76L157.75 250.27Z" fill="#000"/>
<path d="M172.93 254.53L169.42 248.45" stroke="#000" stroke-width="0.7" fill="none"/>
<path d="M167.12 244.47L170.68 247.72L168.17 249.17Z" fill="#000"/>
<path d="M175.45 248.76L181.47 249.60" stroke="#000" stroke-width="0.7" fill="none"/>
<path d="M186.02 250.24L181.27 251.04L181.67 248.17Z" fill="#000"/>
<path d="M186.19 249.50L192.09 249.50" stroke="#000" stroke-width="0.7" fill="none"/>
<path d="M196.69 249.50L192.09 250.95L192.09 248.05Z" fill="#000"/>
<path d="M196.90 249.50L202.80 249.50" stroke="#000" stroke-width="0.7" fill="none"/>
<path d="M207.40 249.50L202.80 250.95L202.80 248.05Z" fill="#000"/>
<path d="M46.38 263.29L40.71 260.01" stroke="#000" stroke-width="0.7" fill="none"/>
<path d="M36.73 257.71L41.43 258.76L39.98 261.27Z" fill="#000"/>
<path d="M57.51 260.50L51.61 260.50" stroke="#000" stroke-width="0.7" fill="none"/>
<path d="M47.01 260.50L51.61 259.05L51.61 261.95Z" fill="#000"/>
<path d="M68.22 260.50L62.32 260.50" stroke="#000" stroke-width="0.7" fill="none"/>
<path d="M57.72 260.50L62.32 259.05L62.32 261.95Z" fill="#000"/>
<path d="M78.92 260.50L73.02 260.50" stroke="#000" stroke-width="0.7" fill="none"/>
<path d="M68.42 260.50L73.02 259.05L73.02 261.95Z" fill="#000"/>
<path d="M89.63 260.50L83.73 260.50" stroke="#000" stroke-width="0.7" fill="none"/>
<path d="M79.13 260.50L83.73 259.05L83.73 261.95Z" fill="#000"/>
<path d="M100.33 260.50L94.43 260.50" stroke="#000" stroke-width="0.7" fill="none"/>
<path d="M89.83 260.50L94.43 259.05L94.43 261.95Z" fill="#000"/>
<path d="M111.04 260.50L105.14 260.50" stroke="#000" stroke-width="0.7" fill="none"/>
<path d="M100.54 260.50L105.14 259.05L105.14 261.95Z" fill="#000"/>
<path d="M121.77 260.68L115.82 260.48" stroke="#000" stroke-width="0.7" fill="none"/>
<path d="M111.23 260.32L115.88 259.03L115.77 261.93Z" fill="#000"/>
<path d="M132.47 260.68L126.53 260.48" stroke="#000" stroke-width="0.7" fill="none"/>
<path d="M121.93 260.32L126.58 259.03L126.48 261.93Z" fill="#000"/>
<path d="M143.19 260.87L137.22 260.45" stroke="#000" stroke-width="0.7" fill="none"/>
<path d="M132.63 260.13L137.32 259.01L137.11 261.90Z" fill="#000"/>
<path d="M153.90 261.24L147.88 260.40" stroke="#000" stroke-width="0.7" fill="none"/>
<path d="M143.33 259.76L148.08 258.96L147.68 261.83Z" fill="#000"/>
<path d="M164.56 261.90L158.53 260.29" stroke="#000" stroke-width="0.7" fill="none"/>
<path d="M154.09 259.10L158.91 258.89L158.16 261.69Z" fill="#000"/>
<path d="M171.05 266.30L169.80 259.23" stroke="#000" stroke-width="0.7" fill="none"/>
<path d="M169.01 254.70L171.23 258.98L168.38 259.48Z" fill="#000"/>
<path d="M175.50 261.90L181.52 260.29" stroke="#000" stroke-width="0.7" fill="none"/>
<path d="M185.97 259.10L181.90 261.69L181.15 258.89Z" fill="#000"/>
<path d="M186.16 260.78L192.12 260.46" stroke="#000" stroke-width="0.7" fill="none"/>
<path d="M196.72 260.22L192.20 261.91L192.05 259.02Z" fill="#000"/>
<path d="M196.90 260.50L202.80 260.50" stroke="#000" stroke-width="0.7" fill="none"/>
<path d="M207.40 260.50L202.80 261.95L202.80 259.05Z" fill="#000"/>
<path d="M46.38 275.29L40.71 272.01" stroke="#000" stroke-width="0.7" fill="none"/>
<path d="M36.73 269.71L41.43 270.76L39.98 273.27Z" fill="#000"/>
<path d="M57.55 272.96L51.56 272.44" stroke="#000" stroke-width="0.7" fill="none"/>
<path d="M46.97 272.04L51.68 270.99L51.43 273.88Z" fill="#000"/>
<path d="M68.22 272.50L62.32 272.50" stroke="#000" stroke-width="0.7" fill="none"/>
<path d="M57.72 272.50L62.32 271.05L62.32 273.95Z" fill="#000"/>
<path d="M78.92 272.50L73.02 272.50" stroke="#000" stroke-width="0.7" fill="none"/>
<path d="M68.42 272.50L73.02 271.05L73.02 273.95Z" fill="#000"/>
<path d="M89.63 272.50L83.73 272.50" stroke="#000" stroke-width="0.7" fill="none"/>
<path d="M79.13 272.50L83.73 271.05L83.73 273.95Z" fill="#000"/>
<path d="M100.33 272.50L94.43 272.50" stroke="#000" stroke-width="0.7" fill="none"/>
<path d="M89.83 272.50L94.43 271.05L94.43 273.95Z" fill="#000"/>
<path d="M111.04 272.50L105.14 272.50" stroke="#000" stroke-width="0.7" fill="none"/>
<path d="M100.54 272.50L105.14 271.05L105.14 273.95Z" fill="#000"/>
<path d="M121.75 272.50L115.85 272.50" stroke="#000" stroke-width="0.7" fill="none"/>
<path d="M111.25 272.50L115.85 271.05L115.85 273.95Z" fill="#000"/>
<path d="M132.47 272.68L126.53 272.48" stroke="#000" stroke-width="0.7" fill="none"/>
<path d="M121.93 272.32L126.58 271.03L126.48 273.93Z" fill="#000"/>
<path d="M143.19 272.87L137.22 272.45" stroke="#000" stroke-width="0.7" fill="none"/>
<path d="M132.63 272.13L137.32 271.01L137.11 273.90Z" fill="#000"/>
<path d="M153.90 273.43L147.86 272.37" stroke="#000" stroke-width="0.7" fill="none"/>
<path d="M143.33 271.57L148.12 270.94L147.61 273.80Z" fill="#000"/>
<path d="M164.15 275.29L158.48 272.01" stroke="#000" stroke-width="0.7" fill="none"/>
<path d="M154.49 269.71L159.20 270.76L157.75 273.27Z" fill="#000"/>
<path d="M169.01 278.30L170.25 271.23" stroke="#000" stroke-width="0.7" fill="none"/>
<path d="M171.05 266.70L171.68 271.48L168.82 270.98Z" fill="#000"/>
<path d="M175.73 274.83L181.57 272.11" stroke="#000" stroke-width="0.7" fill="none"/>
<path d="M185.74 270.17L182.19 273.42L180.96 270.80Z" fill="#000"/>
<path d="M186.15 272.96L192.14 272.44" stroke="#000" stroke-width="0.7" fill="none"/>
<path d="M196.73 272.04L192.27 273.88L192.02 270.99Z" fill="#000"/>
<path d="M196.90 272.50L202.80 272.50" stroke="#000" stroke-width="0.7" fill="none"/>
<path d="M207.40 272.50L202.80 273.95L202.80 271.05Z" fill="#000"/>
</g>
<g shape-rendering="crispEdges">
<rect x="225.50" y="14.60" width="5.80" height="25.33" fill="#fa0038"/>
<rect x="225.50" y="39.73" width="5.80" height="25.33" fill="#ffa600"/>
<rect x="225.50" y="64.87" width="5.80" height="12.77" fill="#ffd800"/>
<rect x="225.50" y="77.43" width="5.80" height="25.33" fill="#ffff10"/>
<rect x="225.50" y="102.57" width="5.80" height="25.33" fill="#a8f04c"/>
<rect x="225.50" y="127.70" width="5.80" height="12.77" fill="#80f008"/>
<rect x="225.50" y="140.27" width="5.80" height="25.33" fill="#30fa80"/>
<rect x="225.50" y="165.40" width="5.80" height="25.33" fill="#34c634"/>
<rect x="225.50" y="190.53" width="5.80" height="12.77" fill="#00e4ff"/>
<rect x="225.50" y="203.10" width="5.80" height="25.33" fill="#10b4f8"/>
<rect x="225.50" y="228.23" width="5.80" height="25.33" fill="#4169e8"/>
<rect x="225.50" y="253.37" width="5.80" height="12.77" fill="#6a52c8"/>
<rect x="225.50" y="265.93" width="5.80" height="25.33" fill="#9d00c8"/>
<rect x="225.50" y="291.07" width="5.80" height="25.33" fill="#c9c9fb"/>
</g>
<path d="M225.50 27.17H231.30" stroke="#3a3030" stroke-width="0.55"/>
<path d="M225.50 39.73H231.30" stroke="#3a3030" stroke-width="0.55"/>
<path d="M225.50 52.30H231.30" stroke="#3a3030" stroke-width="0.55"/>
<path d="M225.50 64.87H231.30" stroke="#3a3030" stroke-width="0.55"/>
<path d="M225.50 77.43H231.30" stroke="#3a3030" stroke-width="0.55"/>
<path d="M225.50 90.00H231.30" stroke="#3a3030" stroke-width="0.55"/>
<path d="M225.50 102.57H231.30" stroke="#3a3030" stroke-width="0.55"/>
<path d="M225.50 115.13H231.30" stroke="#3a3030" stroke-width="0.55"/>
<path d="M225.50 127.70H231.30" stroke="#3a3030" stroke-width="0.55"/>
<path d="M225.50 140.27H231.30" stroke="#3a3030" stroke-width="0.55"/>
<path d="M225.50 152.83H231.30" stroke="#3a3030" stroke-width="0.55"/>
<path d="M225.50 165.40H231.30" stroke="#3a3030" stroke-width="0.55"/>
<path d="M225.50 177.97H231.30" stroke="#3a3030" stroke-width="0.55"/>
<path d="M225.50 190.53H231.30" stroke="#3a3030" stroke-width="0.55"/>
<path d="M225.50 203.10H231.30" stroke="#3a3030" stroke-width="0.55"/>
<path d="M225.50 215.67H231.30" stroke="#3a3030" stroke-width="0.55"/>
<path d="M225.50 228.23H231.30" stroke="#3a3030" stroke-width="0.55"/>
<path d="M225.50 240.80H231.30" stroke="#3a3030" stroke-width="0.55"/>
<path d="M225.50 253.37H231.30" stroke="#3a3030" stroke-width="0.55"/>
<path d="M225.50 265.93H231.30" stroke="#3a3030" stroke-width="0.55"/>
<path d="M225.50 278.50H231.30" stroke="#3a3030" stroke-width="0.55"/>
<path d="M225.50 291.07H231.30" stroke="#3a3030" stroke-width="0.55"/>
<path d="M225.50 303.63H231.30" stroke="#3a3030" stroke-width="0.55"/>
<rect x="225.50" y="14.60" width="5.80" height="301.60" fill="none" stroke="#4a4040" stroke-width="0.7"/>
<text transform="translate(234.5,29.95) scale(0.9,1)" class="cb">1E20</text>
<text transform="translate(234.5,43.65) scale(0.9,1)" class="cb">9E19</text>
<text transform="translate(234.5,56.15) scale(0.9,1)" class="cb">7E19</text>
<text transform="translate(234.5,68.45) scale(0.9,1)" class="cb">5E19</text>
<text transform="translate(234.5,81.70) scale(0.9,1)" class="cb">3E19</text>
<text transform="translate(234.5,93.70) scale(0.9,1)" class="cb">1E19</text>
<text transform="translate(234.5,106.20) scale(0.9,1)" class="cb">9E18</text>
<text transform="translate(234.5,119.95) scale(0.9,1)" class="cb">7E18</text>
<text transform="translate(234.5,131.95) scale(0.9,1)" class="cb">5E18</text>
<text transform="translate(234.5,143.70) scale(0.9,1)" class="cb">3E18</text>
<text transform="translate(234.5,154.20) scale(0.9,1)" class="cb">1E18</text>
<text transform="translate(234.5,167.95) scale(0.9,1)" class="cb">9E17</text>
<text transform="translate(234.5,180.95) scale(0.9,1)" class="cb">7E17</text>
<text transform="translate(234.5,194.45) scale(0.9,1)" class="cb">5E17</text>
<text transform="translate(234.5,206.20) scale(0.9,1)" class="cb">3E17</text>
<text transform="translate(234.5,219.20) scale(0.9,1)" class="cb">1E17</text>
<text transform="translate(234.5,231.20) scale(0.9,1)" class="cb">9E16</text>
<text transform="translate(234.5,244.20) scale(0.9,1)" class="cb">7E16</text>
<text transform="translate(234.5,257.20) scale(0.9,1)" class="cb">5E16</text>
<text transform="translate(234.5,269.20) scale(0.9,1)" class="cb">3E16</text>
<text transform="translate(234.5,281.20) scale(0.9,1)" class="cb">1E16</text>
<text transform="translate(234.5,294.95) scale(0.9,1)" class="cb">5E15</text>
<text transform="translate(234.5,306.70) scale(0.9,1)" class="cb">1E15</text>
<g shape-rendering="crispEdges">
<rect x="499.70" y="14.00" width="6.00" height="22.56" fill="#fa0038"/>
<rect x="499.70" y="36.36" width="6.00" height="22.56" fill="#ffa600"/>
<rect x="499.70" y="58.71" width="6.00" height="22.56" fill="#ffd800"/>
<rect x="499.70" y="81.07" width="6.00" height="22.56" fill="#ffff10"/>
<rect x="499.70" y="103.42" width="6.00" height="22.56" fill="#a8f04c"/>
<rect x="499.70" y="125.78" width="6.00" height="22.56" fill="#80f008"/>
<rect x="499.70" y="148.13" width="6.00" height="22.56" fill="#30fa80"/>
<rect x="499.70" y="170.49" width="6.00" height="22.56" fill="#34c634"/>
<rect x="499.70" y="192.84" width="6.00" height="22.56" fill="#00e4ff"/>
<rect x="499.70" y="215.20" width="6.00" height="22.56" fill="#10b4f8"/>
<rect x="499.70" y="237.56" width="6.00" height="22.56" fill="#4169e8"/>
<rect x="499.70" y="259.91" width="6.00" height="22.56" fill="#6a52c8"/>
<rect x="499.70" y="282.27" width="6.00" height="22.56" fill="#9d00c8"/>
<rect x="499.70" y="304.62" width="6.00" height="11.38" fill="#c9c9fb"/>
</g>
<path d="M499.70 25.18H505.70" stroke="#3a3030" stroke-width="0.55"/>
<path d="M499.70 36.36H505.70" stroke="#3a3030" stroke-width="0.55"/>
<path d="M499.70 47.53H505.70" stroke="#3a3030" stroke-width="0.55"/>
<path d="M499.70 58.71H505.70" stroke="#3a3030" stroke-width="0.55"/>
<path d="M499.70 69.89H505.70" stroke="#3a3030" stroke-width="0.55"/>
<path d="M499.70 81.07H505.70" stroke="#3a3030" stroke-width="0.55"/>
<path d="M499.70 92.24H505.70" stroke="#3a3030" stroke-width="0.55"/>
<path d="M499.70 103.42H505.70" stroke="#3a3030" stroke-width="0.55"/>
<path d="M499.70 114.60H505.70" stroke="#3a3030" stroke-width="0.55"/>
<path d="M499.70 125.78H505.70" stroke="#3a3030" stroke-width="0.55"/>
<path d="M499.70 136.96H505.70" stroke="#3a3030" stroke-width="0.55"/>
<path d="M499.70 148.13H505.70" stroke="#3a3030" stroke-width="0.55"/>
<path d="M499.70 159.31H505.70" stroke="#3a3030" stroke-width="0.55"/>
<path d="M499.70 170.49H505.70" stroke="#3a3030" stroke-width="0.55"/>
<path d="M499.70 181.67H505.70" stroke="#3a3030" stroke-width="0.55"/>
<path d="M499.70 192.84H505.70" stroke="#3a3030" stroke-width="0.55"/>
<path d="M499.70 204.02H505.70" stroke="#3a3030" stroke-width="0.55"/>
<path d="M499.70 215.20H505.70" stroke="#3a3030" stroke-width="0.55"/>
<path d="M499.70 226.38H505.70" stroke="#3a3030" stroke-width="0.55"/>
<path d="M499.70 237.56H505.70" stroke="#3a3030" stroke-width="0.55"/>
<path d="M499.70 248.73H505.70" stroke="#3a3030" stroke-width="0.55"/>
<path d="M499.70 259.91H505.70" stroke="#3a3030" stroke-width="0.55"/>
<path d="M499.70 271.09H505.70" stroke="#3a3030" stroke-width="0.55"/>
<path d="M499.70 282.27H505.70" stroke="#3a3030" stroke-width="0.55"/>
<path d="M499.70 293.44H505.70" stroke="#3a3030" stroke-width="0.55"/>
<path d="M499.70 304.62H505.70" stroke="#3a3030" stroke-width="0.55"/>
<rect x="499.70" y="14.00" width="6.00" height="301.80" fill="none" stroke="#4a4040" stroke-width="0.7"/>
<text transform="translate(509.6,27.45) scale(0.9,1)" class="cb">5E16</text>
<text transform="translate(509.6,39.20) scale(0.9,1)" class="cb">3E16</text>
<text transform="translate(509.6,49.95) scale(0.9,1)" class="cb">2E16</text>
<text transform="translate(509.6,62.20) scale(0.9,1)" class="cb">1E16</text>
<text transform="translate(509.6,72.95) scale(0.9,1)" class="cb">9E15</text>
<text transform="translate(509.6,84.20) scale(0.9,1)" class="cb">7E15</text>
<text transform="translate(509.6,94.95) scale(0.9,1)" class="cb">5E15</text>
<text transform="translate(509.6,105.95) scale(0.9,1)" class="cb">4E15</text>
<text transform="translate(509.6,117.45) scale(0.9,1)" class="cb">3.5E15</text>
<text transform="translate(509.6,128.55) scale(0.9,1)" class="cb">3E15</text>
<text transform="translate(509.6,139.95) scale(0.9,1)" class="cb">2.5E15</text>
<text transform="translate(509.6,152.20) scale(0.9,1)" class="cb">2E15</text>
<text transform="translate(509.6,161.70) scale(0.9,1)" class="cb">1E15</text>
<text transform="translate(509.6,172.95) scale(0.9,1)" class="cb">9E14</text>
<text transform="translate(509.6,184.20) scale(0.9,1)" class="cb">8E14</text>
<text transform="translate(509.6,195.70) scale(0.9,1)" class="cb">7E14</text>
<text transform="translate(509.6,206.70) scale(0.9,1)" class="cb">6E14</text>
<text transform="translate(509.6,217.95) scale(0.9,1)" class="cb">5E14</text>
<text transform="translate(509.6,229.20) scale(0.9,1)" class="cb">4E14</text>
<text transform="translate(509.6,240.45) scale(0.9,1)" class="cb">3E14</text>
<text transform="translate(509.6,251.35) scale(0.9,1)" class="cb">2E14</text>
<text transform="translate(509.6,262.45) scale(0.9,1)" class="cb">1E14</text>
<text transform="translate(509.6,274.20) scale(0.9,1)" class="cb">9E13</text>
<text transform="translate(509.6,286.70) scale(0.9,1)" class="cb">7E13</text>
<text transform="translate(509.6,296.70) scale(0.9,1)" class="cb">5E13</text>
<text transform="translate(509.6,307.45) scale(0.9,1)" class="cb">3E13</text>
<text transform="translate(509.6,319.20) scale(0.9,1)" class="cb">1E13</text>
<text x="83.6" y="17.1" font-size="17.0" fill="#1c120c" stroke="#1c120c">S<tspan font-size="9.8" dy="3.3">W,Ion</tspan><tspan dy="-3.3">(m</tspan><tspan font-size="9.6" dy="-5.8">-3</tspan><tspan dy="5.8">s</tspan><tspan font-size="9.6" dy="-5.8">-1</tspan><tspan dy="5.8">)</tspan></text>
<text x="359.8" y="14.9" font-size="17.0" fill="#1c120c" stroke="#1c120c">n<tspan font-size="9.8" dy="3.3">W</tspan><tspan dy="-3.3">(m</tspan><tspan font-size="9.6" dy="-5.8">-3</tspan><tspan dy="5.8">)</tspan></text>
<text transform="translate(14.2,26.6) scale(1.0,1)" font-size="16.8" fill="#000" stroke="#000">(a)</text>
<text transform="translate(272.9,28.0) scale(1.0,1)" font-size="16.8" fill="#000" stroke="#000">(b)</text>
<text transform="translate(15.3,172.4) scale(1.0,1)" font-size="16.8" fill="#000" stroke="#000">(c)</text>
<text transform="translate(273.5,169.7) scale(1.0,1)" font-size="16.8" fill="#000" stroke="#000">(d)</text>
<text transform="translate(31.4,46.8) scale(0.93,1)" font-size="13.7" fill="#000" stroke="#000">IT</text>
<text transform="translate(96.8,43.5) scale(0.93,1)" font-size="14.3" fill="#a85a08" stroke="#a85a08">X-point</text>
<text transform="translate(193.9,43.8) scale(0.93,1)" font-size="13.7" fill="#000" stroke="#000">OT</text>
<text transform="translate(295.8,41.9) scale(0.93,1)" font-size="13.7" fill="#000" stroke="#000">IT</text>
<text transform="translate(368.6,39.8) scale(0.93,1)" font-size="14.3" fill="#a85a08" stroke="#a85a08">X-point</text>
<text transform="translate(458.8,40.0) scale(0.93,1)" font-size="13.7" fill="#000" stroke="#000">OT</text>
<text transform="translate(45.2,303.7) scale(0.975,1)" font-size="13.7" fill="#000" stroke="#000">Inner PFR</text>
<text transform="translate(129.2,303.7) scale(0.975,1)" font-size="13.7" fill="#000" stroke="#000">Outer PFR</text>
<text transform="translate(315.2,301.7) scale(0.975,1)" font-size="13.7" fill="#000" stroke="#000">Inner PFR</text>
<text transform="translate(399.2,301.7) scale(0.975,1)" font-size="13.7" fill="#000" stroke="#000">Outer PFR</text>
<text transform="translate(15,127) rotate(-90)" font-size="16.5" fill="#1c120c" stroke="#1c120c">W/O drift</text>
<text transform="translate(14.2,273.3) rotate(-90)" font-size="16.4" fill="#9a22d0" stroke="#9a22d0">Forward B<tspan font-size="10" dy="2.5">t</tspan></text>
</g>
</svg>
</body></html>
